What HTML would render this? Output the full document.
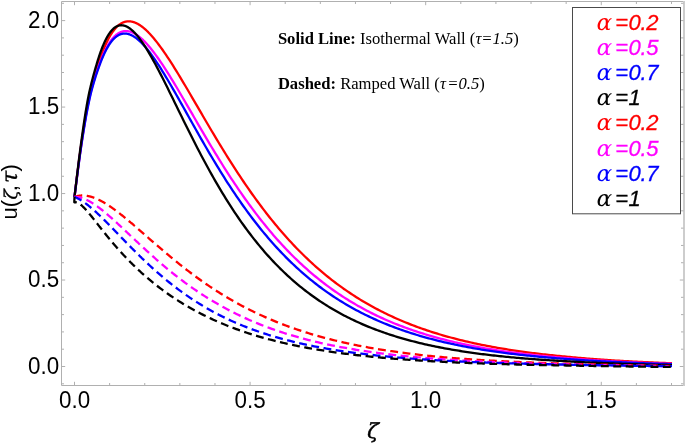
<!DOCTYPE html>
<html><head><meta charset="utf-8"><title>plot</title>
<style>html,body{margin:0;padding:0;background:#fff}svg{display:block}text{white-space:pre}</style></head><body>
<svg width="685" height="444" viewBox="0 0 685 444">
<rect width="685" height="444" fill="#fff"/>
<g stroke="#b0b0b0" stroke-width="1" fill="none">
<path d="M683.5 1.5 H61.5 V385.5 H683.5"/>
<rect x="683" y="1" width="2" height="385" fill="#cdcdcd" stroke="none"/>
<path d="M74.50 385.5 v-3.7 M74.50 1.5 v3.7 M109.62 385.5 v-2.5 M109.62 1.5 v2.5 M144.74 385.5 v-2.5 M144.74 1.5 v2.5 M179.85 385.5 v-2.5 M179.85 1.5 v2.5 M214.97 385.5 v-2.5 M214.97 1.5 v2.5 M250.09 385.5 v-3.7 M250.09 1.5 v3.7 M285.21 385.5 v-2.5 M285.21 1.5 v2.5 M320.33 385.5 v-2.5 M320.33 1.5 v2.5 M355.44 385.5 v-2.5 M355.44 1.5 v2.5 M390.56 385.5 v-2.5 M390.56 1.5 v2.5 M425.68 385.5 v-3.7 M425.68 1.5 v3.7 M460.80 385.5 v-2.5 M460.80 1.5 v2.5 M495.92 385.5 v-2.5 M495.92 1.5 v2.5 M531.03 385.5 v-2.5 M531.03 1.5 v2.5 M566.15 385.5 v-2.5 M566.15 1.5 v2.5 M601.27 385.5 v-3.7 M601.27 1.5 v3.7 M636.39 385.5 v-2.5 M636.39 1.5 v2.5 M671.51 385.5 v-2.5 M671.51 1.5 v2.5 M61.5 383.80 h2.5 M683.5 383.80 h-2.5 M61.5 366.50 h3.7 M683.5 366.50 h-3.7 M61.5 349.20 h2.5 M683.5 349.20 h-2.5 M61.5 331.91 h2.5 M683.5 331.91 h-2.5 M61.5 314.62 h2.5 M683.5 314.62 h-2.5 M61.5 297.32 h2.5 M683.5 297.32 h-2.5 M61.5 280.02 h3.7 M683.5 280.02 h-3.7 M61.5 262.73 h2.5 M683.5 262.73 h-2.5 M61.5 245.44 h2.5 M683.5 245.44 h-2.5 M61.5 228.14 h2.5 M683.5 228.14 h-2.5 M61.5 210.84 h2.5 M683.5 210.84 h-2.5 M61.5 193.55 h3.7 M683.5 193.55 h-3.7 M61.5 176.26 h2.5 M683.5 176.26 h-2.5 M61.5 158.96 h2.5 M683.5 158.96 h-2.5 M61.5 141.67 h2.5 M683.5 141.67 h-2.5 M61.5 124.37 h2.5 M683.5 124.37 h-2.5 M61.5 107.07 h3.7 M683.5 107.07 h-3.7 M61.5 89.78 h2.5 M683.5 89.78 h-2.5 M61.5 72.49 h2.5 M683.5 72.49 h-2.5 M61.5 55.19 h2.5 M683.5 55.19 h-2.5 M61.5 37.90 h2.5 M683.5 37.90 h-2.5 M61.5 20.60 h3.7 M683.5 20.60 h-3.7 M61.5 3.31 h2.5 M683.5 3.31 h-2.5"/>
</g>
<g fill="none" stroke-width="2.30" stroke-linejoin="round">
<path d="M74.50 196.90 L74.79 194.51 L75.08 192.14 L75.37 189.80 L75.65 187.48 L75.93 185.17 L76.21 182.89 L76.49 180.64 L76.77 178.40 L77.04 176.18 L77.32 173.99 L77.59 171.82 L77.87 169.66 L78.14 167.53 L78.41 165.42 L78.68 163.33 L78.95 161.26 L79.23 159.22 L79.50 157.19 L79.77 155.18 L80.04 153.19 L80.31 151.22 L80.58 149.27 L80.85 147.34 L81.12 145.43 L81.40 143.54 L81.67 141.67 L81.94 139.82 L82.22 137.99 L82.49 136.17 L82.77 134.38 L83.04 132.60 L83.32 130.84 L83.59 129.11 L83.86 127.38 L84.13 125.68 L84.40 124.00 L84.66 122.33 L84.93 120.68 L85.20 119.05 L85.47 117.44 L85.74 115.85 L86.01 114.27 L86.29 112.71 L86.56 111.16 L86.84 109.64 L87.11 108.13 L87.39 106.64 L87.67 105.16 L87.95 103.71 L88.24 102.26 L88.52 100.84 L88.81 99.43 L89.10 98.04 L89.40 96.66 L89.69 95.30 L90.00 93.96 L90.30 92.63 L90.62 91.32 L90.93 90.02 L91.25 88.74 L91.56 87.47 L91.89 86.22 L92.21 84.99 L92.53 83.77 L92.86 82.56 L93.18 81.37 L93.51 80.20 L93.84 79.03 L94.16 77.89 L94.49 76.76 L94.82 75.64 L95.14 74.54 L95.47 73.45 L95.79 72.38 L96.11 71.32 L96.43 70.27 L96.75 69.24 L97.07 68.22 L97.39 67.21 L97.70 66.22 L98.01 65.25 L98.32 64.28 L98.63 63.33 L98.94 62.39 L99.25 61.47 L99.55 60.56 L99.85 59.66 L100.15 58.77 L100.45 57.90 L100.75 57.04 L101.05 56.19 L101.35 55.36 L101.65 54.53 L101.95 53.72 L102.25 52.92 L102.55 52.14 L102.85 51.36 L103.15 50.60 L103.44 49.85 L103.74 49.11 L104.04 48.39 L104.33 47.67 L104.62 46.97 L104.92 46.27 L105.21 45.59 L105.50 44.92 L105.80 44.27 L106.09 43.62 L106.38 42.98 L106.68 42.36 L106.97 41.74 L107.26 41.14 L107.55 40.55 L107.84 39.96 L108.14 39.39 L108.43 38.83 L108.72 38.28 L109.02 37.74 L109.31 37.21 L109.60 36.69 L109.89 36.18 L110.19 35.68 L110.48 35.19 L110.77 34.71 L111.06 34.24 L111.36 33.78 L111.65 33.32 L111.94 32.88 L112.23 32.45 L112.53 32.03 L112.82 31.62 L113.11 31.21 L113.40 30.82 L113.70 30.43 L113.99 30.05 L114.28 29.69 L114.57 29.33 L114.87 28.98 L115.16 28.64 L115.45 28.30 L115.74 27.98 L116.03 27.66 L116.33 27.36 L116.62 27.06 L116.91 26.77 L117.21 26.49 L117.50 26.22 L117.79 25.95 L118.08 25.69 L118.38 25.44 L118.67 25.20 L118.96 24.97 L119.25 24.74 L119.55 24.53 L119.84 24.32 L120.13 24.12 L120.42 23.92 L120.72 23.73 L121.01 23.55 L121.30 23.38 L121.59 23.22 L121.89 23.06 L122.18 22.91 L122.47 22.77 L122.76 22.63 L123.06 22.50 L123.35 22.38 L123.64 22.27 L123.93 22.16 L124.22 22.06 L124.52 21.96 L124.81 21.87 L125.10 21.79 L125.40 21.72 L125.69 21.65 L125.98 21.59 L126.27 21.53 L126.56 21.49 L126.86 21.44 L127.15 21.41 L127.44 21.38 L127.73 21.35 L128.03 21.34 L128.32 21.32 L128.61 21.32 L128.91 21.32 L129.20 21.33 L129.49 21.34 L129.78 21.36 L130.08 21.38 L130.37 21.41 L130.66 21.44 L130.95 21.49 L131.25 21.53 L131.54 21.58 L131.83 21.64 L132.12 21.70 L132.42 21.77 L132.71 21.84 L133.00 21.92 L133.29 22.01 L133.59 22.10 L133.88 22.19 L134.17 22.29 L134.46 22.39 L134.75 22.50 L135.05 22.62 L135.34 22.74 L135.63 22.86 L135.93 22.99 L136.22 23.12 L136.51 23.26 L136.80 23.40 L137.09 23.55 L137.39 23.70 L137.68 23.86 L137.97 24.02 L138.26 24.18 L138.56 24.35 L138.85 24.53 L139.14 24.71 L139.44 24.89 L139.73 25.08 L140.02 25.27 L140.31 25.46 L140.61 25.66 L140.90 25.87 L141.19 26.07 L141.48 26.29 L141.78 26.50 L142.07 26.72 L142.36 26.94 L142.65 27.17 L142.94 27.40 L143.24 27.64 L143.53 27.88 L143.82 28.12 L144.12 28.36 L144.41 28.61 L144.70 28.87 L146.46 30.47 L148.23 32.19 L149.99 34.03 L151.75 35.97 L153.52 38.02 L155.28 40.16 L157.04 42.38 L158.81 44.69 L160.57 47.08 L162.34 49.53 L164.10 52.05 L165.86 54.63 L167.63 57.27 L169.39 59.96 L171.15 62.69 L172.92 65.47 L174.68 68.28 L176.44 71.13 L178.21 74.01 L179.97 76.92 L181.73 79.85 L183.50 82.81 L185.26 85.78 L187.03 88.77 L188.79 91.77 L190.55 94.78 L192.32 97.80 L194.08 100.82 L195.84 103.85 L197.61 106.88 L199.37 109.91 L201.13 112.94 L202.90 115.96 L204.66 118.98 L206.42 121.99 L208.19 124.99 L209.95 127.98 L211.71 130.96 L213.48 133.92 L215.24 136.87 L217.01 139.81 L218.77 142.73 L220.53 145.64 L222.30 148.52 L224.06 151.39 L225.82 154.24 L227.59 157.06 L229.35 159.87 L231.11 162.65 L232.88 165.42 L234.64 168.16 L236.40 170.87 L238.17 173.57 L239.93 176.24 L241.69 178.88 L243.46 181.50 L245.22 184.09 L246.99 186.66 L248.75 189.21 L250.51 191.72 L252.28 194.22 L254.04 196.68 L255.80 199.12 L257.57 201.53 L259.33 203.92 L261.09 206.28 L262.86 208.61 L264.62 210.92 L266.38 213.20 L268.15 215.45 L269.91 217.68 L271.68 219.88 L273.44 222.05 L275.20 224.20 L276.97 226.32 L278.73 228.41 L280.49 230.48 L282.26 232.52 L284.02 234.54 L285.78 236.53 L287.55 238.49 L289.31 240.43 L291.07 242.34 L292.84 244.23 L294.60 246.10 L296.36 247.93 L298.13 249.75 L299.89 251.54 L301.66 253.30 L303.42 255.04 L305.18 256.76 L306.95 258.45 L308.71 260.12 L310.47 261.77 L312.24 263.39 L314.00 264.99 L315.76 266.57 L317.53 268.13 L319.29 269.66 L321.05 271.17 L322.82 272.66 L324.58 274.13 L326.35 275.58 L328.11 277.00 L329.87 278.41 L331.64 279.79 L333.40 281.16 L335.16 282.50 L336.93 283.83 L338.69 285.13 L340.45 286.42 L342.22 287.69 L343.98 288.94 L345.74 290.17 L347.51 291.38 L349.27 292.57 L351.03 293.74 L352.80 294.90 L354.56 296.04 L356.33 297.16 L358.09 298.27 L359.85 299.36 L361.62 300.43 L363.38 301.49 L365.14 302.53 L366.91 303.55 L368.67 304.56 L370.43 305.55 L372.20 306.53 L373.96 307.49 L375.72 308.44 L377.49 309.37 L379.25 310.29 L381.02 311.19 L382.78 312.08 L384.54 312.96 L386.31 313.82 L388.07 314.67 L389.83 315.51 L391.60 316.33 L393.36 317.14 L395.12 317.94 L396.89 318.72 L398.65 319.49 L400.41 320.25 L402.18 321.00 L403.94 321.74 L405.70 322.46 L407.47 323.17 L409.23 323.88 L411.00 324.57 L412.76 325.25 L414.52 325.92 L416.29 326.57 L418.05 327.22 L419.81 327.86 L421.58 328.49 L423.34 329.10 L425.10 329.71 L426.87 330.31 L428.63 330.90 L430.39 331.48 L432.16 332.05 L433.92 332.61 L435.68 333.16 L437.45 333.70 L439.21 334.24 L440.98 334.76 L442.74 335.28 L444.50 335.79 L446.27 336.29 L448.03 336.78 L449.79 337.26 L451.56 337.74 L453.32 338.21 L455.08 338.67 L456.85 339.12 L458.61 339.57 L460.37 340.01 L462.14 340.44 L463.90 340.87 L465.67 341.29 L467.43 341.70 L469.19 342.10 L470.96 342.50 L472.72 342.89 L474.48 343.28 L476.25 343.66 L478.01 344.03 L479.77 344.40 L481.54 344.76 L483.30 345.11 L485.06 345.46 L486.83 345.81 L488.59 346.15 L490.35 346.48 L492.12 346.81 L493.88 347.13 L495.65 347.44 L497.41 347.76 L499.17 348.06 L500.94 348.36 L502.70 348.66 L504.46 348.95 L506.23 349.24 L507.99 349.52 L509.75 349.80 L511.52 350.07 L513.28 350.34 L515.04 350.60 L516.81 350.86 L518.57 351.12 L520.34 351.37 L522.10 351.62 L523.86 351.86 L525.63 352.10 L527.39 352.34 L529.15 352.57 L530.92 352.80 L532.68 353.02 L534.44 353.24 L536.21 353.46 L537.97 353.67 L539.73 353.88 L541.50 354.09 L543.26 354.29 L545.02 354.49 L546.79 354.68 L548.55 354.88 L550.32 355.07 L552.08 355.25 L553.84 355.44 L555.61 355.62 L557.37 355.80 L559.13 355.97 L560.90 356.15 L562.66 356.32 L564.42 356.50 L566.19 356.67 L567.95 356.84 L569.71 357.01 L571.48 357.17 L573.24 357.33 L575.01 357.49 L576.77 357.64 L578.53 357.80 L580.30 357.95 L582.06 358.10 L583.82 358.24 L585.59 358.39 L587.35 358.53 L589.11 358.67 L590.88 358.81 L592.64 358.94 L594.40 359.08 L596.17 359.21 L597.93 359.34 L599.69 359.47 L601.46 359.59 L603.22 359.71 L604.99 359.84 L606.75 359.95 L608.51 360.07 L610.28 360.19 L612.04 360.30 L613.80 360.42 L615.57 360.53 L617.33 360.64 L619.09 360.74 L620.86 360.85 L622.62 360.95 L624.38 361.05 L626.15 361.16 L627.91 361.26 L629.67 361.35 L631.44 361.45 L633.20 361.54 L634.97 361.64 L636.73 361.73 L638.49 361.82 L640.26 361.91 L642.02 362.00 L643.78 362.09 L645.55 362.17 L647.31 362.25 L649.07 362.34 L650.84 362.42 L652.60 362.50 L654.36 362.58 L656.13 362.66 L657.89 362.73 L659.66 362.81 L661.42 362.88 L663.18 362.94 L664.95 363.01 L666.71 363.07 L668.47 363.13 L670.24 363.20 L672.00 363.26" stroke="#ff0000"/>
<path d="M74.50 196.90 L74.79 194.51 L75.08 192.15 L75.37 189.81 L75.65 187.50 L75.93 185.20 L76.21 182.93 L76.49 180.69 L76.77 178.46 L77.05 176.26 L77.32 174.08 L77.59 171.93 L77.87 169.79 L78.14 167.68 L78.41 165.59 L78.69 163.52 L78.96 161.47 L79.23 159.45 L79.50 157.44 L79.77 155.46 L80.04 153.50 L80.31 151.56 L80.58 149.64 L80.86 147.74 L81.13 145.86 L81.40 144.00 L81.68 142.16 L81.95 140.34 L82.22 138.54 L82.50 136.77 L82.78 135.01 L83.05 133.27 L83.32 131.55 L83.60 129.85 L83.87 128.17 L84.14 126.51 L84.41 124.86 L84.68 123.24 L84.95 121.63 L85.22 120.05 L85.49 118.48 L85.76 116.93 L86.03 115.39 L86.30 113.88 L86.58 112.38 L86.85 110.91 L87.13 109.44 L87.40 108.00 L87.68 106.58 L87.96 105.17 L88.25 103.78 L88.53 102.40 L88.82 101.05 L89.11 99.71 L89.40 98.38 L89.69 97.07 L89.98 95.78 L90.28 94.51 L90.59 93.25 L90.90 92.01 L91.21 90.79 L91.52 89.58 L91.84 88.38 L92.16 87.20 L92.48 86.04 L92.80 84.89 L93.12 83.76 L93.44 82.64 L93.76 81.54 L94.09 80.46 L94.41 79.38 L94.74 78.33 L95.06 77.29 L95.38 76.26 L95.71 75.25 L96.03 74.25 L96.35 73.26 L96.67 72.29 L96.99 71.34 L97.31 70.39 L97.62 69.47 L97.94 68.55 L98.25 67.65 L98.57 66.76 L98.88 65.89 L99.19 65.03 L99.50 64.18 L99.80 63.35 L100.11 62.52 L100.41 61.72 L100.72 60.92 L101.02 60.14 L101.32 59.37 L101.62 58.61 L101.92 57.86 L102.21 57.13 L102.51 56.41 L102.81 55.70 L103.11 55.01 L103.41 54.32 L103.71 53.65 L104.01 52.99 L104.30 52.34 L104.60 51.70 L104.90 51.08 L105.19 50.46 L105.49 49.86 L105.79 49.27 L106.08 48.69 L106.38 48.12 L106.67 47.56 L106.96 47.01 L107.26 46.47 L107.55 45.95 L107.84 45.43 L108.14 44.93 L108.43 44.43 L108.72 43.95 L109.02 43.48 L109.31 43.01 L109.60 42.56 L109.89 42.12 L110.19 41.68 L110.48 41.26 L110.77 40.85 L111.06 40.44 L111.36 40.05 L111.65 39.66 L111.94 39.29 L112.23 38.92 L112.53 38.57 L112.82 38.22 L113.11 37.88 L113.40 37.55 L113.70 37.23 L113.99 36.92 L114.28 36.62 L114.57 36.33 L114.87 36.04 L115.16 35.77 L115.45 35.50 L115.74 35.24 L116.03 34.99 L116.33 34.75 L116.62 34.52 L116.91 34.30 L117.21 34.08 L117.50 33.87 L117.79 33.67 L118.08 33.48 L118.38 33.29 L118.67 33.12 L118.96 32.95 L119.25 32.78 L119.55 32.63 L119.84 32.48 L120.13 32.35 L120.42 32.21 L120.72 32.09 L121.01 31.97 L121.30 31.86 L121.59 31.76 L121.89 31.67 L122.18 31.58 L122.47 31.50 L122.76 31.42 L123.06 31.36 L123.35 31.30 L123.64 31.24 L123.93 31.20 L124.22 31.16 L124.52 31.12 L124.81 31.10 L125.10 31.07 L125.40 31.06 L125.69 31.05 L125.98 31.05 L126.27 31.06 L126.56 31.07 L126.86 31.08 L127.15 31.11 L127.44 31.13 L127.73 31.17 L128.03 31.21 L128.32 31.26 L128.61 31.31 L128.91 31.37 L129.20 31.43 L129.49 31.50 L129.78 31.57 L130.08 31.65 L130.37 31.74 L130.66 31.83 L130.95 31.93 L131.25 32.03 L131.54 32.14 L131.83 32.25 L132.12 32.37 L132.42 32.49 L132.71 32.62 L133.00 32.75 L133.29 32.89 L133.59 33.03 L133.88 33.18 L134.17 33.33 L134.46 33.49 L134.75 33.65 L135.05 33.81 L135.34 33.99 L135.63 34.16 L135.93 34.34 L136.22 34.53 L136.51 34.71 L136.80 34.91 L137.09 35.11 L137.39 35.31 L137.68 35.51 L137.97 35.73 L138.26 35.94 L138.56 36.16 L138.85 36.38 L139.14 36.61 L139.44 36.84 L139.73 37.08 L140.02 37.32 L140.31 37.56 L140.61 37.81 L140.90 38.06 L141.19 38.31 L141.48 38.57 L141.78 38.83 L142.07 39.10 L142.36 39.37 L142.65 39.64 L142.94 39.91 L143.24 40.19 L143.53 40.48 L143.82 40.76 L144.12 41.05 L144.41 41.35 L144.70 41.65 L146.46 43.50 L148.23 45.47 L149.99 47.55 L151.75 49.72 L153.52 51.98 L155.28 54.32 L157.04 56.75 L158.81 59.24 L160.57 61.80 L162.34 64.43 L164.10 67.10 L165.86 69.83 L167.63 72.61 L169.39 75.42 L171.15 78.28 L172.92 81.17 L174.68 84.09 L176.44 87.03 L178.21 90.00 L179.97 92.98 L181.73 95.99 L183.50 99.00 L185.26 102.03 L187.03 105.07 L188.79 108.11 L190.55 111.15 L192.32 114.20 L194.08 117.24 L195.84 120.28 L197.61 123.32 L199.37 126.35 L201.13 129.37 L202.90 132.38 L204.66 135.38 L206.42 138.37 L208.19 141.35 L209.95 144.30 L211.71 147.25 L213.48 150.17 L215.24 153.08 L217.01 155.96 L218.77 158.83 L220.53 161.67 L222.30 164.50 L224.06 167.30 L225.82 170.07 L227.59 172.83 L229.35 175.56 L231.11 178.26 L232.88 180.94 L234.64 183.60 L236.40 186.22 L238.17 188.83 L239.93 191.40 L241.69 193.95 L243.46 196.47 L245.22 198.97 L246.99 201.43 L248.75 203.87 L250.51 206.29 L252.28 208.67 L254.04 211.03 L255.80 213.36 L257.57 215.66 L259.33 217.93 L261.09 220.18 L262.86 222.40 L264.62 224.59 L266.38 226.75 L268.15 228.89 L269.91 230.99 L271.68 233.07 L273.44 235.13 L275.20 237.15 L276.97 239.15 L278.73 241.13 L280.49 243.07 L282.26 245.00 L284.02 246.89 L285.78 248.76 L287.55 250.60 L289.31 252.42 L291.07 254.21 L292.84 255.98 L294.60 257.72 L296.36 259.43 L298.13 261.13 L299.89 262.80 L301.66 264.44 L303.42 266.06 L305.18 267.66 L306.95 269.23 L308.71 270.78 L310.47 272.31 L312.24 273.81 L314.00 275.30 L315.76 276.76 L317.53 278.20 L319.29 279.62 L321.05 281.01 L322.82 282.39 L324.58 283.74 L326.35 285.08 L328.11 286.39 L329.87 287.69 L331.64 288.96 L333.40 290.22 L335.16 291.45 L336.93 292.67 L338.69 293.87 L340.45 295.05 L342.22 296.21 L343.98 297.35 L345.74 298.48 L347.51 299.58 L349.27 300.67 L351.03 301.75 L352.80 302.80 L354.56 303.84 L356.33 304.87 L358.09 305.88 L359.85 306.87 L361.62 307.84 L363.38 308.80 L365.14 309.75 L366.91 310.68 L368.67 311.60 L370.43 312.50 L372.20 313.38 L373.96 314.26 L375.72 315.11 L377.49 315.96 L379.25 316.79 L381.02 317.61 L382.78 318.41 L384.54 319.21 L386.31 319.98 L388.07 320.75 L389.83 321.51 L391.60 322.25 L393.36 322.98 L395.12 323.70 L396.89 324.40 L398.65 325.10 L400.41 325.78 L402.18 326.45 L403.94 327.12 L405.70 327.77 L407.47 328.41 L409.23 329.04 L411.00 329.66 L412.76 330.27 L414.52 330.87 L416.29 331.46 L418.05 332.04 L419.81 332.61 L421.58 333.17 L423.34 333.72 L425.10 334.27 L426.87 334.80 L428.63 335.33 L430.39 335.84 L432.16 336.35 L433.92 336.85 L435.68 337.34 L437.45 337.83 L439.21 338.30 L440.98 338.77 L442.74 339.23 L444.50 339.68 L446.27 340.13 L448.03 340.57 L449.79 341.00 L451.56 341.42 L453.32 341.84 L455.08 342.25 L456.85 342.65 L458.61 343.05 L460.37 343.44 L462.14 343.82 L463.90 344.20 L465.67 344.57 L467.43 344.93 L469.19 345.29 L470.96 345.64 L472.72 345.99 L474.48 346.33 L476.25 346.66 L478.01 346.99 L479.77 347.32 L481.54 347.64 L483.30 347.95 L485.06 348.26 L486.83 348.56 L488.59 348.86 L490.35 349.15 L492.12 349.44 L493.88 349.73 L495.65 350.00 L497.41 350.28 L499.17 350.55 L500.94 350.81 L502.70 351.07 L504.46 351.33 L506.23 351.58 L507.99 351.83 L509.75 352.07 L511.52 352.31 L513.28 352.55 L515.04 352.78 L516.81 353.01 L518.57 353.23 L520.34 353.45 L522.10 353.67 L523.86 353.88 L525.63 354.09 L527.39 354.30 L529.15 354.50 L530.92 354.70 L532.68 354.90 L534.44 355.09 L536.21 355.28 L537.97 355.47 L539.73 355.65 L541.50 355.83 L543.26 356.01 L545.02 356.18 L546.79 356.35 L548.55 356.52 L550.32 356.68 L552.08 356.85 L553.84 357.01 L555.61 357.16 L557.37 357.32 L559.13 357.47 L560.90 357.63 L562.66 357.78 L564.42 357.93 L566.19 358.08 L567.95 358.23 L569.71 358.38 L571.48 358.52 L573.24 358.66 L575.01 358.80 L576.77 358.94 L578.53 359.07 L580.30 359.20 L582.06 359.33 L583.82 359.46 L585.59 359.59 L587.35 359.71 L589.11 359.83 L590.88 359.95 L592.64 360.07 L594.40 360.19 L596.17 360.30 L597.93 360.42 L599.69 360.53 L601.46 360.64 L603.22 360.74 L604.99 360.85 L606.75 360.95 L608.51 361.06 L610.28 361.16 L612.04 361.26 L613.80 361.36 L615.57 361.45 L617.33 361.55 L619.09 361.64 L620.86 361.73 L622.62 361.82 L624.38 361.91 L626.15 362.00 L627.91 362.09 L629.67 362.17 L631.44 362.26 L633.20 362.34 L634.97 362.42 L636.73 362.50 L638.49 362.58 L640.26 362.66 L642.02 362.74 L643.78 362.81 L645.55 362.89 L647.31 362.96 L649.07 363.03 L650.84 363.10 L652.60 363.17 L654.36 363.24 L656.13 363.31 L657.89 363.38 L659.66 363.44 L661.42 363.50 L663.18 363.56 L664.95 363.61 L666.71 363.67 L668.47 363.72 L670.24 363.77 L672.00 363.82" stroke="#ff00ff"/>
<path d="M74.50 196.90 L74.79 194.58 L75.08 192.28 L75.37 190.00 L75.65 187.74 L75.93 185.51 L76.21 183.29 L76.49 181.10 L76.77 178.92 L77.05 176.77 L77.33 174.63 L77.60 172.52 L77.87 170.43 L78.15 168.35 L78.42 166.30 L78.69 164.27 L78.96 162.25 L79.24 160.26 L79.51 158.29 L79.78 156.33 L80.05 154.40 L80.32 152.48 L80.60 150.59 L80.87 148.71 L81.14 146.85 L81.41 145.02 L81.69 143.20 L81.96 141.40 L82.23 139.62 L82.51 137.85 L82.79 136.11 L83.06 134.38 L83.34 132.68 L83.61 130.99 L83.88 129.32 L84.15 127.67 L84.42 126.04 L84.69 124.42 L84.96 122.82 L85.23 121.24 L85.50 119.68 L85.78 118.14 L86.05 116.61 L86.32 115.10 L86.59 113.61 L86.87 112.14 L87.14 110.68 L87.42 109.24 L87.70 107.82 L87.97 106.41 L88.26 105.03 L88.54 103.65 L88.82 102.30 L89.11 100.96 L89.40 99.64 L89.69 98.33 L89.98 97.04 L90.28 95.77 L90.58 94.51 L90.88 93.27 L91.19 92.04 L91.50 90.83 L91.81 89.64 L92.13 88.46 L92.45 87.29 L92.77 86.15 L93.09 85.01 L93.41 83.90 L93.73 82.79 L94.05 81.71 L94.38 80.64 L94.70 79.58 L95.02 78.54 L95.35 77.51 L95.67 76.49 L95.99 75.49 L96.31 74.51 L96.63 73.54 L96.95 72.58 L97.27 71.64 L97.59 70.71 L97.91 69.80 L98.22 68.90 L98.54 68.01 L98.85 67.14 L99.16 66.28 L99.47 65.43 L99.78 64.60 L100.09 63.78 L100.39 62.97 L100.70 62.18 L101.00 61.40 L101.30 60.63 L101.60 59.88 L101.90 59.14 L102.20 58.41 L102.50 57.69 L102.80 56.99 L103.10 56.29 L103.40 55.61 L103.70 54.95 L104.00 54.29 L104.29 53.65 L104.59 53.02 L104.89 52.40 L105.19 51.79 L105.48 51.19 L105.78 50.61 L106.07 50.03 L106.37 49.47 L106.67 48.92 L106.96 48.38 L107.25 47.85 L107.55 47.33 L107.84 46.83 L108.14 46.33 L108.43 45.85 L108.72 45.37 L109.02 44.91 L109.31 44.46 L109.60 44.02 L109.89 43.58 L110.19 43.16 L110.48 42.75 L110.77 42.35 L111.06 41.96 L111.36 41.58 L111.65 41.21 L111.94 40.85 L112.23 40.49 L112.53 40.15 L112.82 39.82 L113.11 39.50 L113.40 39.18 L113.70 38.88 L113.99 38.59 L114.28 38.30 L114.57 38.02 L114.87 37.76 L115.16 37.50 L115.45 37.25 L115.74 37.01 L116.03 36.78 L116.33 36.55 L116.62 36.34 L116.91 36.13 L117.21 35.94 L117.50 35.75 L117.79 35.57 L118.08 35.39 L118.38 35.23 L118.67 35.07 L118.96 34.93 L119.25 34.79 L119.55 34.65 L119.84 34.53 L120.13 34.41 L120.42 34.30 L120.72 34.20 L121.01 34.11 L121.30 34.02 L121.59 33.95 L121.89 33.87 L122.18 33.81 L122.47 33.75 L122.76 33.70 L123.06 33.66 L123.35 33.63 L123.64 33.60 L123.93 33.58 L124.22 33.56 L124.52 33.55 L124.81 33.55 L125.10 33.56 L125.40 33.57 L125.69 33.59 L125.98 33.62 L126.27 33.65 L126.56 33.69 L126.86 33.73 L127.15 33.78 L127.44 33.84 L127.73 33.90 L128.03 33.97 L128.32 34.05 L128.61 34.13 L128.91 34.21 L129.20 34.31 L129.49 34.41 L129.78 34.51 L130.08 34.62 L130.37 34.74 L130.66 34.86 L130.95 34.98 L131.25 35.12 L131.54 35.25 L131.83 35.40 L132.12 35.55 L132.42 35.70 L132.71 35.86 L133.00 36.02 L133.29 36.19 L133.59 36.37 L133.88 36.55 L134.17 36.73 L134.46 36.92 L134.75 37.11 L135.05 37.31 L135.34 37.51 L135.63 37.72 L135.93 37.94 L136.22 38.15 L136.51 38.37 L136.80 38.60 L137.09 38.83 L137.39 39.07 L137.68 39.31 L137.97 39.55 L138.26 39.80 L138.56 40.05 L138.85 40.31 L139.14 40.57 L139.44 40.83 L139.73 41.10 L140.02 41.38 L140.31 41.65 L140.61 41.93 L140.90 42.22 L141.19 42.51 L141.48 42.80 L141.78 43.09 L142.07 43.39 L142.36 43.70 L142.65 44.00 L142.94 44.31 L143.24 44.63 L143.53 44.95 L143.82 45.27 L144.12 45.59 L144.41 45.92 L144.70 46.25 L146.46 48.32 L148.23 50.49 L149.99 52.77 L151.75 55.15 L153.52 57.61 L155.28 60.16 L157.04 62.78 L158.81 65.47 L160.57 68.23 L162.34 71.04 L164.10 73.90 L165.86 76.81 L167.63 79.76 L169.39 82.75 L171.15 85.77 L172.92 88.82 L174.68 91.90 L176.44 94.99 L178.21 98.10 L179.97 101.23 L181.73 104.37 L183.50 107.51 L185.26 110.66 L187.03 113.82 L188.79 116.97 L190.55 120.12 L192.32 123.26 L194.08 126.40 L195.84 129.53 L197.61 132.65 L199.37 135.76 L201.13 138.85 L202.90 141.93 L204.66 144.99 L206.42 148.03 L208.19 151.05 L209.95 154.05 L211.71 157.03 L213.48 159.99 L215.24 162.93 L217.01 165.84 L218.77 168.72 L220.53 171.58 L222.30 174.42 L224.06 177.23 L225.82 180.01 L227.59 182.76 L229.35 185.48 L231.11 188.18 L232.88 190.84 L234.64 193.48 L236.40 196.09 L238.17 198.67 L239.93 201.21 L241.69 203.73 L243.46 206.22 L245.22 208.68 L246.99 211.11 L248.75 213.51 L250.51 215.88 L252.28 218.21 L254.04 220.52 L255.80 222.80 L257.57 225.05 L259.33 227.27 L261.09 229.46 L262.86 231.62 L264.62 233.75 L266.38 235.85 L268.15 237.92 L269.91 239.96 L271.68 241.98 L273.44 243.96 L275.20 245.92 L276.97 247.85 L278.73 249.75 L280.49 251.63 L282.26 253.48 L284.02 255.30 L285.78 257.09 L287.55 258.86 L289.31 260.60 L291.07 262.32 L292.84 264.01 L294.60 265.67 L296.36 267.31 L298.13 268.92 L299.89 270.51 L301.66 272.08 L303.42 273.62 L305.18 275.14 L306.95 276.63 L308.71 278.11 L310.47 279.55 L312.24 280.98 L314.00 282.39 L315.76 283.77 L317.53 285.13 L319.29 286.47 L321.05 287.79 L322.82 289.08 L324.58 290.36 L326.35 291.62 L328.11 292.85 L329.87 294.07 L331.64 295.27 L333.40 296.45 L335.16 297.61 L336.93 298.75 L338.69 299.87 L340.45 300.98 L342.22 302.06 L343.98 303.13 L345.74 304.19 L347.51 305.22 L349.27 306.24 L351.03 307.24 L352.80 308.23 L354.56 309.20 L356.33 310.15 L358.09 311.09 L359.85 312.01 L361.62 312.92 L363.38 313.81 L365.14 314.69 L366.91 315.56 L368.67 316.41 L370.43 317.24 L372.20 318.06 L373.96 318.87 L375.72 319.67 L377.49 320.45 L379.25 321.22 L381.02 321.98 L382.78 322.72 L384.54 323.45 L386.31 324.17 L388.07 324.88 L389.83 325.58 L391.60 326.26 L393.36 326.94 L395.12 327.60 L396.89 328.25 L398.65 328.89 L400.41 329.52 L402.18 330.14 L403.94 330.75 L405.70 331.35 L407.47 331.94 L409.23 332.51 L411.00 333.08 L412.76 333.64 L414.52 334.20 L416.29 334.74 L418.05 335.27 L419.81 335.79 L421.58 336.31 L423.34 336.81 L425.10 337.31 L426.87 337.80 L428.63 338.28 L430.39 338.76 L432.16 339.22 L433.92 339.68 L435.68 340.13 L437.45 340.57 L439.21 341.01 L440.98 341.43 L442.74 341.85 L444.50 342.27 L446.27 342.67 L448.03 343.07 L449.79 343.47 L451.56 343.85 L453.32 344.23 L455.08 344.61 L456.85 344.97 L458.61 345.33 L460.37 345.69 L462.14 346.04 L463.90 346.38 L465.67 346.72 L467.43 347.05 L469.19 347.38 L470.96 347.70 L472.72 348.01 L474.48 348.32 L476.25 348.63 L478.01 348.93 L479.77 349.22 L481.54 349.51 L483.30 349.80 L485.06 350.08 L486.83 350.35 L488.59 350.62 L490.35 350.89 L492.12 351.15 L493.88 351.41 L495.65 351.66 L497.41 351.91 L499.17 352.15 L500.94 352.39 L502.70 352.63 L504.46 352.86 L506.23 353.09 L507.99 353.32 L509.75 353.54 L511.52 353.75 L513.28 353.97 L515.04 354.18 L516.81 354.38 L518.57 354.59 L520.34 354.79 L522.10 354.98 L523.86 355.17 L525.63 355.36 L527.39 355.55 L529.15 355.73 L530.92 355.91 L532.68 356.09 L534.44 356.26 L536.21 356.44 L537.97 356.60 L539.73 356.77 L541.50 356.93 L543.26 357.09 L545.02 357.25 L546.79 357.40 L548.55 357.55 L550.32 357.70 L552.08 357.85 L553.84 358.00 L555.61 358.14 L557.37 358.28 L559.13 358.41 L560.90 358.55 L562.66 358.69 L564.42 358.83 L566.19 358.97 L567.95 359.10 L569.71 359.23 L571.48 359.36 L573.24 359.49 L575.01 359.62 L576.77 359.74 L578.53 359.86 L580.30 359.98 L582.06 360.10 L583.82 360.21 L585.59 360.33 L587.35 360.44 L589.11 360.55 L590.88 360.66 L592.64 360.77 L594.40 360.87 L596.17 360.98 L597.93 361.08 L599.69 361.18 L601.46 361.28 L603.22 361.38 L604.99 361.47 L606.75 361.57 L608.51 361.66 L610.28 361.75 L612.04 361.84 L613.80 361.93 L615.57 362.02 L617.33 362.11 L619.09 362.19 L620.86 362.27 L622.62 362.36 L624.38 362.44 L626.15 362.52 L627.91 362.59 L629.67 362.67 L631.44 362.75 L633.20 362.82 L634.97 362.90 L636.73 362.97 L638.49 363.04 L640.26 363.11 L642.02 363.18 L643.78 363.25 L645.55 363.32 L647.31 363.38 L649.07 363.45 L650.84 363.51 L652.60 363.58 L654.36 363.64 L656.13 363.70 L657.89 363.76 L659.66 363.82 L661.42 363.88 L663.18 363.93 L664.95 363.98 L666.71 364.02 L668.47 364.07 L670.24 364.12 L672.00 364.16" stroke="#0000ff"/>
<path d="M74.50 196.90 L74.79 194.43 L75.08 191.98 L75.37 189.55 L75.65 187.14 L75.93 184.74 L76.21 182.37 L76.49 180.02 L76.76 177.68 L77.04 175.37 L77.31 173.07 L77.58 170.80 L77.86 168.54 L78.13 166.31 L78.40 164.09 L78.67 161.90 L78.94 159.72 L79.21 157.56 L79.48 155.43 L79.75 153.31 L80.02 151.22 L80.29 149.14 L80.56 147.08 L80.83 145.05 L81.10 143.03 L81.37 141.03 L81.64 139.06 L81.92 137.10 L82.19 135.16 L82.47 133.24 L82.74 131.35 L83.01 129.47 L83.28 127.61 L83.54 125.77 L83.81 123.95 L84.08 122.15 L84.34 120.37 L84.61 118.61 L84.88 116.87 L85.15 115.15 L85.42 113.45 L85.69 111.76 L85.96 110.10 L86.24 108.45 L86.52 106.83 L86.79 105.22 L87.08 103.63 L87.36 102.07 L87.65 100.52 L87.93 98.98 L88.23 97.47 L88.52 95.98 L88.82 94.50 L89.13 93.05 L89.44 91.61 L89.76 90.19 L90.07 88.79 L90.40 87.40 L90.72 86.04 L91.05 84.69 L91.37 83.36 L91.70 82.05 L92.03 80.76 L92.36 79.48 L92.69 78.23 L93.02 76.99 L93.35 75.76 L93.68 74.56 L94.01 73.37 L94.33 72.20 L94.66 71.05 L94.98 69.91 L95.30 68.79 L95.62 67.69 L95.94 66.60 L96.25 65.53 L96.57 64.48 L96.88 63.44 L97.19 62.42 L97.49 61.42 L97.80 60.43 L98.10 59.46 L98.40 58.50 L98.70 57.56 L99.00 56.64 L99.30 55.73 L99.60 54.84 L99.90 53.96 L100.20 53.10 L100.50 52.26 L100.80 51.43 L101.10 50.61 L101.40 49.81 L101.69 49.02 L101.99 48.25 L102.28 47.50 L102.58 46.76 L102.87 46.03 L103.16 45.32 L103.46 44.62 L103.75 43.94 L104.04 43.27 L104.34 42.61 L104.63 41.97 L104.92 41.34 L105.21 40.73 L105.50 40.13 L105.80 39.54 L106.09 38.97 L106.38 38.41 L106.68 37.86 L106.97 37.32 L107.26 36.80 L107.55 36.30 L107.84 35.80 L108.14 35.32 L108.43 34.85 L108.72 34.39 L109.02 33.95 L109.31 33.52 L109.60 33.10 L109.89 32.69 L110.19 32.29 L110.48 31.91 L110.77 31.54 L111.06 31.18 L111.36 30.83 L111.65 30.49 L111.94 30.17 L112.23 29.85 L112.53 29.55 L112.82 29.26 L113.11 28.98 L113.40 28.71 L113.70 28.45 L113.99 28.20 L114.28 27.97 L114.57 27.74 L114.87 27.52 L115.16 27.32 L115.45 27.12 L115.74 26.94 L116.03 26.77 L116.33 26.60 L116.62 26.45 L116.91 26.30 L117.21 26.17 L117.50 26.04 L117.79 25.93 L118.08 25.82 L118.38 25.73 L118.67 25.64 L118.96 25.56 L119.25 25.49 L119.55 25.43 L119.84 25.38 L120.13 25.34 L120.42 25.31 L120.72 25.29 L121.01 25.27 L121.30 25.26 L121.59 25.27 L121.89 25.28 L122.18 25.29 L122.47 25.32 L122.76 25.36 L123.06 25.40 L123.35 25.45 L123.64 25.51 L123.93 25.58 L124.22 25.65 L124.52 25.74 L124.81 25.83 L125.10 25.92 L125.40 26.03 L125.69 26.14 L125.98 26.26 L126.27 26.39 L126.56 26.52 L126.86 26.66 L127.15 26.81 L127.44 26.97 L127.73 27.13 L128.03 27.30 L128.32 27.47 L128.61 27.66 L128.91 27.85 L129.20 28.04 L129.49 28.24 L129.78 28.45 L130.08 28.67 L130.37 28.89 L130.66 29.11 L130.95 29.35 L131.25 29.59 L131.54 29.83 L131.83 30.08 L132.12 30.34 L132.42 30.60 L132.71 30.87 L133.00 31.14 L133.29 31.42 L133.59 31.70 L133.88 31.99 L134.17 32.29 L134.46 32.59 L134.75 32.90 L135.05 33.21 L135.34 33.52 L135.63 33.84 L135.93 34.17 L136.22 34.50 L136.51 34.84 L136.80 35.18 L137.09 35.52 L137.39 35.87 L137.68 36.23 L137.97 36.59 L138.26 36.95 L138.56 37.32 L138.85 37.69 L139.14 38.07 L139.44 38.45 L139.73 38.83 L140.02 39.22 L140.31 39.62 L140.61 40.01 L140.90 40.41 L141.19 40.82 L141.48 41.23 L141.78 41.64 L142.07 42.06 L142.36 42.48 L142.65 42.90 L142.94 43.33 L143.24 43.76 L143.53 44.20 L143.82 44.64 L144.12 45.08 L144.41 45.53 L144.70 45.97 L146.46 48.75 L148.23 51.63 L149.99 54.61 L151.75 57.69 L153.52 60.84 L155.28 64.07 L157.04 67.36 L158.81 70.71 L160.57 74.11 L162.34 77.55 L164.10 81.04 L165.86 84.55 L167.63 88.10 L169.39 91.66 L171.15 95.24 L172.92 98.83 L174.68 102.43 L176.44 106.03 L178.21 109.64 L179.97 113.24 L181.73 116.83 L183.50 120.41 L185.26 123.98 L187.03 127.54 L188.79 131.08 L190.55 134.59 L192.32 138.09 L194.08 141.56 L195.84 145.01 L197.61 148.43 L199.37 151.82 L201.13 155.18 L202.90 158.51 L204.66 161.80 L206.42 165.07 L208.19 168.29 L209.95 171.49 L211.71 174.65 L213.48 177.77 L215.24 180.86 L217.01 183.90 L218.77 186.91 L220.53 189.89 L222.30 192.82 L224.06 195.72 L225.82 198.58 L227.59 201.40 L229.35 204.18 L231.11 206.92 L232.88 209.62 L234.64 212.29 L236.40 214.91 L238.17 217.50 L239.93 220.05 L241.69 222.56 L243.46 225.03 L245.22 227.47 L246.99 229.87 L248.75 232.23 L250.51 234.56 L252.28 236.84 L254.04 239.10 L255.80 241.31 L257.57 243.50 L259.33 245.64 L261.09 247.75 L262.86 249.83 L264.62 251.88 L266.38 253.89 L268.15 255.86 L269.91 257.81 L271.68 259.72 L273.44 261.60 L275.20 263.45 L276.97 265.27 L278.73 267.06 L280.49 268.82 L282.26 270.54 L284.02 272.24 L285.78 273.91 L287.55 275.55 L289.31 277.17 L291.07 278.75 L292.84 280.31 L294.60 281.84 L296.36 283.35 L298.13 284.83 L299.89 286.28 L301.66 287.71 L303.42 289.11 L305.18 290.49 L306.95 291.84 L308.71 293.18 L310.47 294.48 L312.24 295.77 L314.00 297.03 L315.76 298.27 L317.53 299.49 L319.29 300.69 L321.05 301.86 L322.82 303.02 L324.58 304.15 L326.35 305.27 L328.11 306.36 L329.87 307.44 L331.64 308.50 L333.40 309.53 L335.16 310.55 L336.93 311.56 L338.69 312.54 L340.45 313.51 L342.22 314.45 L343.98 315.39 L345.74 316.30 L347.51 317.20 L349.27 318.09 L351.03 318.95 L352.80 319.80 L354.56 320.64 L356.33 321.46 L358.09 322.27 L359.85 323.06 L361.62 323.84 L363.38 324.61 L365.14 325.36 L366.91 326.10 L368.67 326.82 L370.43 327.53 L372.20 328.23 L373.96 328.92 L375.72 329.59 L377.49 330.25 L379.25 330.90 L381.02 331.54 L382.78 332.17 L384.54 332.78 L386.31 333.39 L388.07 333.98 L389.83 334.57 L391.60 335.14 L393.36 335.70 L395.12 336.25 L396.89 336.80 L398.65 337.33 L400.41 337.85 L402.18 338.36 L403.94 338.87 L405.70 339.36 L407.47 339.85 L409.23 340.33 L411.00 340.80 L412.76 341.26 L414.52 341.71 L416.29 342.16 L418.05 342.59 L419.81 343.02 L421.58 343.44 L423.34 343.85 L425.10 344.26 L426.87 344.66 L428.63 345.05 L430.39 345.43 L432.16 345.81 L433.92 346.18 L435.68 346.55 L437.45 346.90 L439.21 347.25 L440.98 347.60 L442.74 347.94 L444.50 348.27 L446.27 348.60 L448.03 348.92 L449.79 349.23 L451.56 349.54 L453.32 349.84 L455.08 350.14 L456.85 350.44 L458.61 350.72 L460.37 351.00 L462.14 351.28 L463.90 351.55 L465.67 351.82 L467.43 352.08 L469.19 352.34 L470.96 352.59 L472.72 352.84 L474.48 353.09 L476.25 353.33 L478.01 353.56 L479.77 353.79 L481.54 354.02 L483.30 354.24 L485.06 354.46 L486.83 354.68 L488.59 354.89 L490.35 355.10 L492.12 355.30 L493.88 355.50 L495.65 355.70 L497.41 355.89 L499.17 356.08 L500.94 356.26 L502.70 356.45 L504.46 356.62 L506.23 356.80 L507.99 356.97 L509.75 357.14 L511.52 357.31 L513.28 357.47 L515.04 357.63 L516.81 357.79 L518.57 357.95 L520.34 358.10 L522.10 358.25 L523.86 358.40 L525.63 358.54 L527.39 358.68 L529.15 358.82 L530.92 358.96 L532.68 359.09 L534.44 359.22 L536.21 359.35 L537.97 359.48 L539.73 359.60 L541.50 359.73 L543.26 359.85 L545.02 359.96 L546.79 360.08 L548.55 360.19 L550.32 360.31 L552.08 360.41 L553.84 360.52 L555.61 360.63 L557.37 360.73 L559.13 360.83 L560.90 360.94 L562.66 361.05 L564.42 361.15 L566.19 361.25 L567.95 361.35 L569.71 361.45 L571.48 361.55 L573.24 361.65 L575.01 361.74 L576.77 361.83 L578.53 361.93 L580.30 362.02 L582.06 362.10 L583.82 362.19 L585.59 362.28 L587.35 362.36 L589.11 362.44 L590.88 362.53 L592.64 362.61 L594.40 362.69 L596.17 362.76 L597.93 362.84 L599.69 362.91 L601.46 362.99 L603.22 363.06 L604.99 363.13 L606.75 363.20 L608.51 363.27 L610.28 363.34 L612.04 363.41 L613.80 363.47 L615.57 363.54 L617.33 363.60 L619.09 363.67 L620.86 363.73 L622.62 363.79 L624.38 363.85 L626.15 363.91 L627.91 363.97 L629.67 364.02 L631.44 364.08 L633.20 364.13 L634.97 364.19 L636.73 364.24 L638.49 364.30 L640.26 364.35 L642.02 364.40 L643.78 364.45 L645.55 364.50 L647.31 364.55 L649.07 364.60 L650.84 364.65 L652.60 364.69 L654.36 364.74 L656.13 364.78 L657.89 364.83 L659.66 364.87 L661.42 364.91 L663.18 364.94 L664.95 364.98 L666.71 365.01 L668.47 365.05 L670.24 365.08 L672.00 365.11" stroke="#000000"/>
<path d="M74.50 196.90 L74.79 196.79 L75.08 196.69 L75.38 196.60 L75.67 196.50 L75.96 196.42 L76.25 196.33 L76.55 196.25 L76.84 196.18 L77.13 196.10 L77.42 196.04 L77.72 195.97 L78.01 195.91 L78.30 195.86 L78.59 195.81 L78.89 195.76 L79.18 195.72 L79.47 195.68 L79.77 195.64 L80.06 195.61 L80.35 195.58 L80.64 195.55 L80.94 195.53 L81.23 195.51 L81.52 195.50 L81.81 195.49 L82.11 195.48 L82.40 195.48 L82.69 195.48 L82.98 195.48 L83.28 195.48 L83.57 195.49 L83.86 195.51 L84.15 195.52 L84.44 195.54 L84.74 195.56 L85.03 195.59 L85.32 195.62 L85.61 195.65 L85.91 195.68 L86.20 195.72 L86.49 195.76 L86.78 195.81 L87.08 195.85 L87.37 195.90 L87.66 195.95 L87.95 196.01 L88.25 196.07 L88.54 196.13 L88.83 196.19 L89.12 196.26 L89.42 196.33 L89.71 196.40 L90.00 196.47 L90.30 196.55 L90.59 196.63 L90.88 196.71 L91.17 196.79 L91.47 196.88 L91.76 196.97 L92.05 197.06 L92.34 197.15 L92.64 197.25 L92.93 197.35 L93.22 197.45 L93.51 197.55 L93.81 197.66 L94.10 197.77 L94.39 197.88 L94.68 197.99 L94.97 198.10 L95.27 198.22 L95.56 198.34 L95.85 198.46 L96.14 198.58 L96.44 198.71 L96.73 198.84 L97.02 198.96 L97.31 199.10 L97.61 199.23 L97.90 199.36 L98.19 199.50 L98.48 199.64 L98.78 199.78 L99.07 199.92 L99.36 200.07 L99.66 200.21 L99.95 200.36 L100.24 200.51 L100.53 200.66 L100.83 200.81 L101.12 200.97 L101.41 201.13 L101.70 201.28 L102.00 201.44 L102.29 201.61 L102.58 201.77 L102.87 201.93 L103.16 202.10 L103.46 202.27 L103.75 202.44 L104.04 202.61 L104.34 202.78 L104.63 202.95 L104.92 203.13 L105.21 203.31 L105.50 203.49 L105.80 203.66 L106.09 203.85 L106.38 204.03 L106.68 204.21 L106.97 204.40 L107.26 204.58 L107.55 204.77 L107.84 204.96 L108.14 205.15 L108.43 205.34 L108.72 205.53 L109.02 205.73 L109.31 205.92 L109.60 206.12 L109.89 206.32 L110.19 206.52 L110.48 206.72 L110.77 206.92 L111.06 207.12 L111.36 207.32 L111.65 207.53 L111.94 207.73 L112.23 207.94 L112.53 208.15 L112.82 208.35 L113.11 208.56 L113.40 208.77 L113.70 208.98 L113.99 209.20 L114.28 209.41 L114.57 209.62 L114.87 209.84 L115.16 210.06 L115.45 210.27 L115.74 210.49 L116.03 210.71 L116.33 210.93 L116.62 211.15 L116.91 211.37 L117.21 211.59 L117.50 211.82 L117.79 212.04 L118.08 212.26 L118.38 212.49 L118.67 212.72 L118.96 212.94 L119.25 213.17 L119.55 213.40 L119.84 213.63 L120.13 213.86 L120.42 214.09 L120.72 214.32 L121.01 214.55 L121.30 214.78 L121.59 215.01 L121.89 215.25 L122.18 215.48 L122.47 215.72 L122.76 215.95 L123.06 216.19 L123.35 216.42 L123.64 216.66 L123.93 216.90 L124.22 217.14 L124.52 217.38 L124.81 217.62 L125.10 217.86 L125.40 218.10 L125.69 218.34 L125.98 218.58 L126.27 218.82 L126.56 219.06 L126.86 219.30 L127.15 219.55 L127.44 219.79 L127.73 220.04 L128.03 220.28 L128.32 220.53 L128.61 220.77 L128.91 221.02 L129.20 221.26 L129.49 221.51 L129.78 221.76 L130.08 222.00 L130.37 222.25 L130.66 222.50 L130.95 222.75 L131.25 223.00 L131.54 223.24 L131.83 223.49 L132.12 223.74 L132.42 223.99 L132.71 224.24 L133.00 224.49 L133.29 224.74 L133.59 224.99 L133.88 225.25 L134.17 225.50 L134.46 225.75 L134.75 226.00 L135.05 226.25 L135.34 226.51 L135.63 226.76 L135.93 227.01 L136.22 227.26 L136.51 227.52 L136.80 227.77 L137.09 228.02 L137.39 228.28 L137.68 228.53 L137.97 228.79 L138.26 229.04 L138.56 229.29 L138.85 229.55 L139.14 229.80 L139.44 230.06 L139.73 230.31 L140.02 230.57 L140.31 230.82 L140.61 231.08 L140.90 231.33 L141.19 231.59 L141.48 231.84 L141.78 232.10 L142.07 232.36 L142.36 232.61 L142.65 232.87 L142.94 233.12 L143.24 233.38 L143.53 233.63 L143.82 233.89 L144.12 234.15 L144.41 234.40 L144.70 234.66 L146.46 236.20 L148.23 237.75 L149.99 239.29 L151.75 240.83 L153.52 242.37 L155.28 243.90 L157.04 245.43 L158.81 246.95 L160.57 248.47 L162.34 249.98 L164.10 251.48 L165.86 252.97 L167.63 254.46 L169.39 255.93 L171.15 257.40 L172.92 258.85 L174.68 260.30 L176.44 261.73 L178.21 263.16 L179.97 264.57 L181.73 265.97 L183.50 267.36 L185.26 268.73 L187.03 270.09 L188.79 271.44 L190.55 272.78 L192.32 274.10 L194.08 275.42 L195.84 276.71 L197.61 278.00 L199.37 279.27 L201.13 280.53 L202.90 281.77 L204.66 283.00 L206.42 284.21 L208.19 285.42 L209.95 286.61 L211.71 287.78 L213.48 288.94 L215.24 290.09 L217.01 291.22 L218.77 292.34 L220.53 293.45 L222.30 294.54 L224.06 295.62 L225.82 296.68 L227.59 297.74 L229.35 298.77 L231.11 299.80 L232.88 300.81 L234.64 301.81 L236.40 302.79 L238.17 303.77 L239.93 304.73 L241.69 305.67 L243.46 306.61 L245.22 307.53 L246.99 308.44 L248.75 309.34 L250.51 310.22 L252.28 311.09 L254.04 311.95 L255.80 312.80 L257.57 313.64 L259.33 314.46 L261.09 315.27 L262.86 316.07 L264.62 316.86 L266.38 317.64 L268.15 318.41 L269.91 319.17 L271.68 319.91 L273.44 320.65 L275.20 321.37 L276.97 322.09 L278.73 322.79 L280.49 323.48 L282.26 324.16 L284.02 324.84 L285.78 325.50 L287.55 326.15 L289.31 326.80 L291.07 327.43 L292.84 328.05 L294.60 328.67 L296.36 329.28 L298.13 329.87 L299.89 330.46 L301.66 331.04 L303.42 331.61 L305.18 332.17 L306.95 332.72 L308.71 333.27 L310.47 333.80 L312.24 334.33 L314.00 334.85 L315.76 335.36 L317.53 335.87 L319.29 336.36 L321.05 336.85 L322.82 337.33 L324.58 337.81 L326.35 338.27 L328.11 338.73 L329.87 339.18 L331.64 339.63 L333.40 340.07 L335.16 340.50 L336.93 340.92 L338.69 341.34 L340.45 341.75 L342.22 342.16 L343.98 342.56 L345.74 342.95 L347.51 343.33 L349.27 343.71 L351.03 344.09 L352.80 344.46 L354.56 344.82 L356.33 345.17 L358.09 345.53 L359.85 345.87 L361.62 346.21 L363.38 346.54 L365.14 346.87 L366.91 347.20 L368.67 347.52 L370.43 347.83 L372.20 348.14 L373.96 348.44 L375.72 348.74 L377.49 349.03 L379.25 349.32 L381.02 349.61 L382.78 349.89 L384.54 350.16 L386.31 350.43 L388.07 350.70 L389.83 350.96 L391.60 351.22 L393.36 351.47 L395.12 351.72 L396.89 351.97 L398.65 352.21 L400.41 352.45 L402.18 352.68 L403.94 352.91 L405.70 353.14 L407.47 353.36 L409.23 353.58 L411.00 353.80 L412.76 354.01 L414.52 354.22 L416.29 354.42 L418.05 354.62 L419.81 354.82 L421.58 355.02 L423.34 355.21 L425.10 355.40 L426.87 355.58 L428.63 355.77 L430.39 355.95 L432.16 356.12 L433.92 356.30 L435.68 356.47 L437.45 356.64 L439.21 356.80 L440.98 356.96 L442.74 357.12 L444.50 357.28 L446.27 357.44 L448.03 357.59 L449.79 357.74 L451.56 357.88 L453.32 358.03 L455.08 358.17 L456.85 358.31 L458.61 358.45 L460.37 358.58 L462.14 358.72 L463.90 358.85 L465.67 358.98 L467.43 359.10 L469.19 359.23 L470.96 359.35 L472.72 359.47 L474.48 359.59 L476.25 359.71 L478.01 359.82 L479.77 359.93 L481.54 360.04 L483.30 360.15 L485.06 360.26 L486.83 360.36 L488.59 360.47 L490.35 360.57 L492.12 360.67 L493.88 360.77 L495.65 360.86 L497.41 360.96 L499.17 361.05 L500.94 361.14 L502.70 361.23 L504.46 361.32 L506.23 361.41 L507.99 361.50 L509.75 361.58 L511.52 361.66 L513.28 361.74 L515.04 361.82 L516.81 361.90 L518.57 361.98 L520.34 362.06 L522.10 362.13 L523.86 362.20 L525.63 362.28 L527.39 362.35 L529.15 362.42 L530.92 362.49 L532.68 362.55 L534.44 362.62 L536.21 362.69 L537.97 362.75 L539.73 362.81 L541.50 362.88 L543.26 362.94 L545.02 363.00 L546.79 363.06 L548.55 363.11 L550.32 363.17 L552.08 363.23 L553.84 363.28 L555.61 363.33 L557.37 363.39 L559.13 363.44 L560.90 363.50 L562.66 363.55 L564.42 363.61 L566.19 363.67 L567.95 363.72 L569.71 363.78 L571.48 363.83 L573.24 363.89 L575.01 363.94 L576.77 363.99 L578.53 364.04 L580.30 364.09 L582.06 364.14 L583.82 364.19 L585.59 364.24 L587.35 364.29 L589.11 364.33 L590.88 364.38 L592.64 364.43 L594.40 364.47 L596.17 364.52 L597.93 364.56 L599.69 364.60 L601.46 364.64 L603.22 364.69 L604.99 364.73 L606.75 364.77 L608.51 364.81 L610.28 364.85 L612.04 364.89 L613.80 364.93 L615.57 364.96 L617.33 365.00 L619.09 365.04 L620.86 365.07 L622.62 365.11 L624.38 365.15 L626.15 365.18 L627.91 365.21 L629.67 365.25 L631.44 365.28 L633.20 365.32 L634.97 365.35 L636.73 365.38 L638.49 365.41 L640.26 365.44 L642.02 365.48 L643.78 365.51 L645.55 365.54 L647.31 365.57 L649.07 365.60 L650.84 365.62 L652.60 365.65 L654.36 365.68 L656.13 365.71 L657.89 365.74 L659.66 365.76 L661.42 365.79 L663.18 365.80 L664.95 365.82 L666.71 365.84 L668.47 365.86 L670.24 365.88 L672.00 365.89" stroke="#ff0000" stroke-dasharray="7.9 4.5"/>
<path d="M74.50 196.90 L74.79 196.90 L75.08 196.90 L75.38 196.90 L75.67 196.91 L75.96 196.93 L76.25 196.94 L76.55 196.97 L76.84 196.99 L77.13 197.02 L77.42 197.06 L77.72 197.10 L78.01 197.14 L78.30 197.18 L78.59 197.23 L78.89 197.29 L79.18 197.35 L79.47 197.41 L79.77 197.47 L80.06 197.54 L80.35 197.61 L80.64 197.69 L80.94 197.77 L81.23 197.85 L81.52 197.93 L81.81 198.02 L82.11 198.11 L82.40 198.21 L82.69 198.31 L82.98 198.41 L83.28 198.51 L83.57 198.62 L83.86 198.73 L84.15 198.84 L84.44 198.96 L84.74 199.08 L85.03 199.20 L85.32 199.33 L85.61 199.45 L85.91 199.58 L86.20 199.72 L86.49 199.85 L86.78 199.99 L87.08 200.13 L87.37 200.27 L87.66 200.42 L87.95 200.57 L88.25 200.72 L88.54 200.87 L88.83 201.03 L89.12 201.19 L89.42 201.35 L89.71 201.51 L90.00 201.67 L90.30 201.84 L90.59 202.01 L90.88 202.18 L91.17 202.35 L91.47 202.53 L91.76 202.70 L92.05 202.88 L92.34 203.06 L92.64 203.25 L92.93 203.43 L93.22 203.62 L93.51 203.81 L93.81 204.00 L94.10 204.19 L94.39 204.39 L94.68 204.58 L94.97 204.78 L95.27 204.98 L95.56 205.18 L95.85 205.38 L96.14 205.59 L96.44 205.79 L96.73 206.00 L97.02 206.21 L97.31 206.42 L97.61 206.63 L97.90 206.85 L98.19 207.06 L98.48 207.28 L98.78 207.49 L99.07 207.71 L99.36 207.93 L99.66 208.16 L99.95 208.38 L100.24 208.60 L100.53 208.83 L100.83 209.06 L101.12 209.28 L101.41 209.51 L101.70 209.74 L102.00 209.98 L102.29 210.21 L102.58 210.44 L102.87 210.68 L103.16 210.91 L103.46 211.15 L103.75 211.39 L104.04 211.63 L104.34 211.87 L104.63 212.11 L104.92 212.35 L105.21 212.60 L105.50 212.84 L105.80 213.09 L106.09 213.33 L106.38 213.58 L106.68 213.83 L106.97 214.08 L107.26 214.33 L107.55 214.58 L107.84 214.83 L108.14 215.08 L108.43 215.33 L108.72 215.59 L109.02 215.84 L109.31 216.09 L109.60 216.35 L109.89 216.61 L110.19 216.86 L110.48 217.12 L110.77 217.38 L111.06 217.64 L111.36 217.90 L111.65 218.16 L111.94 218.42 L112.23 218.68 L112.53 218.94 L112.82 219.21 L113.11 219.47 L113.40 219.73 L113.70 220.00 L113.99 220.26 L114.28 220.53 L114.57 220.79 L114.87 221.06 L115.16 221.32 L115.45 221.59 L115.74 221.86 L116.03 222.13 L116.33 222.39 L116.62 222.66 L116.91 222.93 L117.21 223.20 L117.50 223.47 L117.79 223.74 L118.08 224.01 L118.38 224.28 L118.67 224.55 L118.96 224.83 L119.25 225.10 L119.55 225.37 L119.84 225.64 L120.13 225.91 L120.42 226.19 L120.72 226.46 L121.01 226.73 L121.30 227.01 L121.59 227.28 L121.89 227.55 L122.18 227.83 L122.47 228.10 L122.76 228.38 L123.06 228.65 L123.35 228.93 L123.64 229.20 L123.93 229.48 L124.22 229.75 L124.52 230.03 L124.81 230.30 L125.10 230.58 L125.40 230.85 L125.69 231.13 L125.98 231.41 L126.27 231.68 L126.56 231.96 L126.86 232.23 L127.15 232.51 L127.44 232.79 L127.73 233.06 L128.03 233.34 L128.32 233.62 L128.61 233.89 L128.91 234.17 L129.20 234.45 L129.49 234.72 L129.78 235.00 L130.08 235.27 L130.37 235.55 L130.66 235.83 L130.95 236.10 L131.25 236.38 L131.54 236.66 L131.83 236.93 L132.12 237.21 L132.42 237.48 L132.71 237.76 L133.00 238.04 L133.29 238.31 L133.59 238.59 L133.88 238.86 L134.17 239.14 L134.46 239.42 L134.75 239.69 L135.05 239.97 L135.34 240.24 L135.63 240.52 L135.93 240.79 L136.22 241.07 L136.51 241.34 L136.80 241.62 L137.09 241.89 L137.39 242.16 L137.68 242.44 L137.97 242.71 L138.26 242.99 L138.56 243.26 L138.85 243.53 L139.14 243.81 L139.44 244.08 L139.73 244.35 L140.02 244.63 L140.31 244.90 L140.61 245.17 L140.90 245.44 L141.19 245.71 L141.48 245.99 L141.78 246.26 L142.07 246.53 L142.36 246.80 L142.65 247.07 L142.94 247.34 L143.24 247.61 L143.53 247.88 L143.82 248.15 L144.12 248.42 L144.41 248.69 L144.70 248.96 L146.46 250.58 L148.23 252.18 L149.99 253.78 L151.75 255.36 L153.52 256.94 L155.28 258.50 L157.04 260.05 L158.81 261.58 L160.57 263.10 L162.34 264.61 L164.10 266.10 L165.86 267.58 L167.63 269.04 L169.39 270.49 L171.15 271.92 L172.92 273.34 L174.68 274.74 L176.44 276.12 L178.21 277.49 L179.97 278.85 L181.73 280.18 L183.50 281.51 L185.26 282.81 L187.03 284.10 L188.79 285.38 L190.55 286.63 L192.32 287.88 L194.08 289.10 L195.84 290.31 L197.61 291.51 L199.37 292.68 L201.13 293.85 L202.90 294.99 L204.66 296.12 L206.42 297.24 L208.19 298.34 L209.95 299.42 L211.71 300.49 L213.48 301.55 L215.24 302.59 L217.01 303.61 L218.77 304.62 L220.53 305.62 L222.30 306.60 L224.06 307.57 L225.82 308.52 L227.59 309.46 L229.35 310.38 L231.11 311.30 L232.88 312.19 L234.64 313.08 L236.40 313.95 L238.17 314.81 L239.93 315.65 L241.69 316.48 L243.46 317.30 L245.22 318.11 L246.99 318.90 L248.75 319.68 L250.51 320.45 L252.28 321.21 L254.04 321.96 L255.80 322.69 L257.57 323.42 L259.33 324.13 L261.09 324.83 L262.86 325.52 L264.62 326.20 L266.38 326.87 L268.15 327.52 L269.91 328.17 L271.68 328.81 L273.44 329.43 L275.20 330.05 L276.97 330.66 L278.73 331.26 L280.49 331.84 L282.26 332.42 L284.02 332.99 L285.78 333.55 L287.55 334.10 L289.31 334.64 L291.07 335.17 L292.84 335.70 L294.60 336.21 L296.36 336.72 L298.13 337.22 L299.89 337.71 L301.66 338.19 L303.42 338.67 L305.18 339.14 L306.95 339.60 L308.71 340.05 L310.47 340.49 L312.24 340.93 L314.00 341.36 L315.76 341.78 L317.53 342.20 L319.29 342.61 L321.05 343.01 L322.82 343.41 L324.58 343.79 L326.35 344.18 L328.11 344.55 L329.87 344.92 L331.64 345.29 L333.40 345.65 L335.16 346.00 L336.93 346.34 L338.69 346.68 L340.45 347.02 L342.22 347.35 L343.98 347.67 L345.74 347.99 L347.51 348.30 L349.27 348.61 L351.03 348.91 L352.80 349.21 L354.56 349.50 L356.33 349.79 L358.09 350.07 L359.85 350.35 L361.62 350.62 L363.38 350.89 L365.14 351.15 L366.91 351.41 L368.67 351.67 L370.43 351.92 L372.20 352.17 L373.96 352.41 L375.72 352.65 L377.49 352.88 L379.25 353.11 L381.02 353.34 L382.78 353.56 L384.54 353.78 L386.31 354.00 L388.07 354.21 L389.83 354.42 L391.60 354.62 L393.36 354.82 L395.12 355.02 L396.89 355.21 L398.65 355.41 L400.41 355.59 L402.18 355.78 L403.94 355.96 L405.70 356.14 L407.47 356.31 L409.23 356.49 L411.00 356.65 L412.76 356.82 L414.52 356.99 L416.29 357.15 L418.05 357.30 L419.81 357.46 L421.58 357.61 L423.34 357.76 L425.10 357.91 L426.87 358.06 L428.63 358.20 L430.39 358.34 L432.16 358.48 L433.92 358.61 L435.68 358.75 L437.45 358.88 L439.21 359.01 L440.98 359.13 L442.74 359.26 L444.50 359.38 L446.27 359.50 L448.03 359.62 L449.79 359.73 L451.56 359.85 L453.32 359.96 L455.08 360.07 L456.85 360.18 L458.61 360.29 L460.37 360.39 L462.14 360.49 L463.90 360.59 L465.67 360.69 L467.43 360.79 L469.19 360.89 L470.96 360.98 L472.72 361.07 L474.48 361.17 L476.25 361.26 L478.01 361.34 L479.77 361.43 L481.54 361.52 L483.30 361.60 L485.06 361.68 L486.83 361.76 L488.59 361.84 L490.35 361.92 L492.12 362.00 L493.88 362.07 L495.65 362.15 L497.41 362.22 L499.17 362.29 L500.94 362.36 L502.70 362.43 L504.46 362.50 L506.23 362.57 L507.99 362.63 L509.75 362.70 L511.52 362.76 L513.28 362.82 L515.04 362.88 L516.81 362.94 L518.57 363.00 L520.34 363.06 L522.10 363.12 L523.86 363.18 L525.63 363.23 L527.39 363.28 L529.15 363.34 L530.92 363.39 L532.68 363.44 L534.44 363.49 L536.21 363.54 L537.97 363.59 L539.73 363.64 L541.50 363.69 L543.26 363.73 L545.02 363.78 L546.79 363.82 L548.55 363.87 L550.32 363.91 L552.08 363.96 L553.84 364.00 L555.61 364.04 L557.37 364.08 L559.13 364.12 L560.90 364.16 L562.66 364.21 L564.42 364.25 L566.19 364.30 L567.95 364.34 L569.71 364.39 L571.48 364.43 L573.24 364.47 L575.01 364.52 L576.77 364.56 L578.53 364.60 L580.30 364.64 L582.06 364.68 L583.82 364.72 L585.59 364.76 L587.35 364.79 L589.11 364.83 L590.88 364.87 L592.64 364.90 L594.40 364.94 L596.17 364.98 L597.93 365.01 L599.69 365.05 L601.46 365.08 L603.22 365.11 L604.99 365.15 L606.75 365.18 L608.51 365.21 L610.28 365.25 L612.04 365.28 L613.80 365.31 L615.57 365.34 L617.33 365.37 L619.09 365.40 L620.86 365.43 L622.62 365.46 L624.38 365.49 L626.15 365.52 L627.91 365.54 L629.67 365.57 L631.44 365.60 L633.20 365.63 L634.97 365.65 L636.73 365.68 L638.49 365.71 L640.26 365.73 L642.02 365.76 L643.78 365.78 L645.55 365.81 L647.31 365.83 L649.07 365.86 L650.84 365.88 L652.60 365.91 L654.36 365.93 L656.13 365.95 L657.89 365.98 L659.66 366.00 L661.42 366.01 L663.18 366.03 L664.95 366.04 L666.71 366.06 L668.47 366.07 L670.24 366.08 L672.00 366.10" stroke="#ff00ff" stroke-dasharray="7.9 4.5"/>
<path d="M74.50 196.90 L74.79 197.02 L75.08 197.14 L75.38 197.27 L75.67 197.40 L75.96 197.53 L76.25 197.67 L76.55 197.81 L76.84 197.95 L77.13 198.09 L77.42 198.24 L77.72 198.39 L78.01 198.55 L78.30 198.70 L78.59 198.86 L78.89 199.02 L79.18 199.19 L79.47 199.35 L79.77 199.52 L80.06 199.69 L80.35 199.87 L80.64 200.05 L80.94 200.22 L81.23 200.41 L81.52 200.59 L81.81 200.78 L82.11 200.97 L82.40 201.16 L82.69 201.35 L82.98 201.55 L83.28 201.74 L83.57 201.94 L83.86 202.15 L84.15 202.35 L84.44 202.56 L84.74 202.76 L85.03 202.98 L85.32 203.19 L85.61 203.40 L85.91 203.62 L86.20 203.84 L86.49 204.06 L86.78 204.28 L87.08 204.50 L87.37 204.73 L87.66 204.95 L87.95 205.18 L88.25 205.41 L88.54 205.65 L88.83 205.88 L89.12 206.12 L89.42 206.35 L89.71 206.59 L90.00 206.83 L90.30 207.07 L90.59 207.32 L90.88 207.56 L91.17 207.81 L91.47 208.05 L91.76 208.30 L92.05 208.55 L92.34 208.81 L92.64 209.06 L92.93 209.31 L93.22 209.57 L93.51 209.83 L93.81 210.08 L94.10 210.34 L94.39 210.60 L94.68 210.87 L94.97 211.13 L95.27 211.39 L95.56 211.66 L95.85 211.92 L96.14 212.19 L96.44 212.46 L96.73 212.73 L97.02 213.00 L97.31 213.27 L97.61 213.54 L97.90 213.82 L98.19 214.09 L98.48 214.37 L98.78 214.64 L99.07 214.92 L99.36 215.20 L99.66 215.47 L99.95 215.75 L100.24 216.03 L100.53 216.32 L100.83 216.60 L101.12 216.88 L101.41 217.16 L101.70 217.45 L102.00 217.73 L102.29 218.02 L102.58 218.30 L102.87 218.59 L103.16 218.88 L103.46 219.16 L103.75 219.45 L104.04 219.74 L104.34 220.03 L104.63 220.32 L104.92 220.61 L105.21 220.90 L105.50 221.20 L105.80 221.49 L106.09 221.78 L106.38 222.08 L106.68 222.37 L106.97 222.66 L107.26 222.96 L107.55 223.25 L107.84 223.55 L108.14 223.85 L108.43 224.14 L108.72 224.44 L109.02 224.74 L109.31 225.03 L109.60 225.33 L109.89 225.63 L110.19 225.93 L110.48 226.23 L110.77 226.52 L111.06 226.82 L111.36 227.12 L111.65 227.42 L111.94 227.72 L112.23 228.02 L112.53 228.32 L112.82 228.62 L113.11 228.93 L113.40 229.23 L113.70 229.53 L113.99 229.83 L114.28 230.13 L114.57 230.43 L114.87 230.73 L115.16 231.04 L115.45 231.34 L115.74 231.64 L116.03 231.94 L116.33 232.24 L116.62 232.55 L116.91 232.85 L117.21 233.15 L117.50 233.45 L117.79 233.76 L118.08 234.06 L118.38 234.36 L118.67 234.66 L118.96 234.97 L119.25 235.27 L119.55 235.57 L119.84 235.87 L120.13 236.18 L120.42 236.48 L120.72 236.78 L121.01 237.08 L121.30 237.38 L121.59 237.69 L121.89 237.99 L122.18 238.29 L122.47 238.59 L122.76 238.89 L123.06 239.20 L123.35 239.50 L123.64 239.80 L123.93 240.10 L124.22 240.40 L124.52 240.70 L124.81 241.00 L125.10 241.30 L125.40 241.60 L125.69 241.91 L125.98 242.21 L126.27 242.51 L126.56 242.81 L126.86 243.10 L127.15 243.40 L127.44 243.70 L127.73 244.00 L128.03 244.30 L128.32 244.60 L128.61 244.90 L128.91 245.20 L129.20 245.49 L129.49 245.79 L129.78 246.09 L130.08 246.39 L130.37 246.68 L130.66 246.98 L130.95 247.27 L131.25 247.57 L131.54 247.87 L131.83 248.16 L132.12 248.46 L132.42 248.75 L132.71 249.05 L133.00 249.34 L133.29 249.63 L133.59 249.93 L133.88 250.22 L134.17 250.51 L134.46 250.81 L134.75 251.10 L135.05 251.39 L135.34 251.68 L135.63 251.97 L135.93 252.26 L136.22 252.55 L136.51 252.84 L136.80 253.13 L137.09 253.42 L137.39 253.71 L137.68 254.00 L137.97 254.29 L138.26 254.58 L138.56 254.86 L138.85 255.15 L139.14 255.44 L139.44 255.72 L139.73 256.01 L140.02 256.29 L140.31 256.58 L140.61 256.86 L140.90 257.15 L141.19 257.43 L141.48 257.72 L141.78 258.00 L142.07 258.28 L142.36 258.56 L142.65 258.84 L142.94 259.13 L143.24 259.41 L143.53 259.69 L143.82 259.97 L144.12 260.25 L144.41 260.52 L144.70 260.80 L146.46 262.47 L148.23 264.12 L149.99 265.76 L151.75 267.38 L153.52 268.98 L155.28 270.56 L157.04 272.12 L158.81 273.66 L160.57 275.18 L162.34 276.69 L164.10 278.17 L165.86 279.64 L167.63 281.08 L169.39 282.51 L171.15 283.91 L172.92 285.30 L174.68 286.66 L176.44 288.01 L178.21 289.34 L179.97 290.64 L181.73 291.93 L183.50 293.20 L185.26 294.44 L187.03 295.67 L188.79 296.88 L190.55 298.08 L192.32 299.25 L194.08 300.40 L195.84 301.54 L197.61 302.65 L199.37 303.75 L201.13 304.83 L202.90 305.90 L204.66 306.94 L206.42 307.97 L208.19 308.98 L209.95 309.98 L211.71 310.96 L213.48 311.92 L215.24 312.86 L217.01 313.79 L218.77 314.71 L220.53 315.60 L222.30 316.49 L224.06 317.35 L225.82 318.21 L227.59 319.05 L229.35 319.87 L231.11 320.68 L232.88 321.47 L234.64 322.26 L236.40 323.02 L238.17 323.78 L239.93 324.52 L241.69 325.25 L243.46 325.96 L245.22 326.67 L246.99 327.36 L248.75 328.04 L250.51 328.70 L252.28 329.36 L254.04 330.00 L255.80 330.63 L257.57 331.26 L259.33 331.87 L261.09 332.47 L262.86 333.05 L264.62 333.63 L266.38 334.20 L268.15 334.76 L269.91 335.31 L271.68 335.85 L273.44 336.37 L275.20 336.89 L276.97 337.40 L278.73 337.91 L280.49 338.40 L282.26 338.88 L284.02 339.36 L285.78 339.82 L287.55 340.28 L289.31 340.73 L291.07 341.18 L292.84 341.61 L294.60 342.04 L296.36 342.46 L298.13 342.87 L299.89 343.27 L301.66 343.67 L303.42 344.06 L305.18 344.44 L306.95 344.82 L308.71 345.19 L310.47 345.56 L312.24 345.91 L314.00 346.26 L315.76 346.61 L317.53 346.95 L319.29 347.28 L321.05 347.61 L322.82 347.93 L324.58 348.24 L326.35 348.55 L328.11 348.86 L329.87 349.16 L331.64 349.45 L333.40 349.74 L335.16 350.03 L336.93 350.30 L338.69 350.58 L340.45 350.85 L342.22 351.11 L343.98 351.37 L345.74 351.63 L347.51 351.88 L349.27 352.12 L351.03 352.37 L352.80 352.61 L354.56 352.84 L356.33 353.07 L358.09 353.29 L359.85 353.52 L361.62 353.73 L363.38 353.95 L365.14 354.16 L366.91 354.37 L368.67 354.57 L370.43 354.77 L372.20 354.97 L373.96 355.16 L375.72 355.35 L377.49 355.54 L379.25 355.72 L381.02 355.90 L382.78 356.08 L384.54 356.25 L386.31 356.42 L388.07 356.59 L389.83 356.75 L391.60 356.92 L393.36 357.08 L395.12 357.23 L396.89 357.39 L398.65 357.54 L400.41 357.69 L402.18 357.83 L403.94 357.98 L405.70 358.12 L407.47 358.26 L409.23 358.39 L411.00 358.53 L412.76 358.66 L414.52 358.79 L416.29 358.92 L418.05 359.04 L419.81 359.17 L421.58 359.29 L423.34 359.41 L425.10 359.52 L426.87 359.64 L428.63 359.75 L430.39 359.86 L432.16 359.97 L433.92 360.08 L435.68 360.18 L437.45 360.29 L439.21 360.39 L440.98 360.49 L442.74 360.59 L444.50 360.69 L446.27 360.78 L448.03 360.88 L449.79 360.97 L451.56 361.06 L453.32 361.15 L455.08 361.23 L456.85 361.32 L458.61 361.41 L460.37 361.49 L462.14 361.57 L463.90 361.65 L465.67 361.73 L467.43 361.81 L469.19 361.88 L470.96 361.96 L472.72 362.03 L474.48 362.11 L476.25 362.18 L478.01 362.25 L479.77 362.32 L481.54 362.38 L483.30 362.45 L485.06 362.52 L486.83 362.58 L488.59 362.64 L490.35 362.71 L492.12 362.77 L493.88 362.83 L495.65 362.89 L497.41 362.95 L499.17 363.00 L500.94 363.06 L502.70 363.12 L504.46 363.17 L506.23 363.22 L507.99 363.28 L509.75 363.33 L511.52 363.38 L513.28 363.43 L515.04 363.48 L516.81 363.53 L518.57 363.57 L520.34 363.62 L522.10 363.67 L523.86 363.71 L525.63 363.76 L527.39 363.80 L529.15 363.84 L530.92 363.89 L532.68 363.93 L534.44 363.97 L536.21 364.01 L537.97 364.05 L539.73 364.09 L541.50 364.13 L543.26 364.16 L545.02 364.20 L546.79 364.24 L548.55 364.27 L550.32 364.31 L552.08 364.34 L553.84 364.38 L555.61 364.41 L557.37 364.44 L559.13 364.48 L560.90 364.51 L562.66 364.55 L564.42 364.59 L566.19 364.63 L567.95 364.67 L569.71 364.70 L571.48 364.74 L573.24 364.78 L575.01 364.81 L576.77 364.85 L578.53 364.88 L580.30 364.92 L582.06 364.95 L583.82 364.98 L585.59 365.02 L587.35 365.05 L589.11 365.08 L590.88 365.11 L592.64 365.14 L594.40 365.18 L596.17 365.21 L597.93 365.24 L599.69 365.27 L601.46 365.30 L603.22 365.33 L604.99 365.35 L606.75 365.38 L608.51 365.41 L610.28 365.44 L612.04 365.47 L613.80 365.49 L615.57 365.52 L617.33 365.55 L619.09 365.57 L620.86 365.60 L622.62 365.63 L624.38 365.65 L626.15 365.68 L627.91 365.70 L629.67 365.73 L631.44 365.75 L633.20 365.77 L634.97 365.80 L636.73 365.82 L638.49 365.84 L640.26 365.87 L642.02 365.89 L643.78 365.91 L645.55 365.93 L647.31 365.96 L649.07 365.98 L650.84 366.00 L652.60 366.02 L654.36 366.04 L656.13 366.06 L657.89 366.08 L659.66 366.10 L661.42 366.12 L663.18 366.13 L664.95 366.14 L666.71 366.15 L668.47 366.16 L670.24 366.18 L672.00 366.19" stroke="#0000ff" stroke-dasharray="7.9 4.5"/>
<path d="M74.50 196.90 L74.30 202.30 L74.59 202.26 L74.88 202.25 L75.18 202.25 L75.47 202.26 L75.76 202.29 L76.05 202.34 L76.35 202.40 L76.64 202.48 L76.93 202.57 L77.22 202.67 L77.52 202.79 L77.81 202.91 L78.10 203.05 L78.39 203.20 L78.69 203.36 L78.98 203.54 L79.27 203.72 L79.56 203.91 L79.86 204.11 L80.15 204.31 L80.44 204.53 L80.73 204.76 L81.03 204.99 L81.32 205.23 L81.61 205.47 L81.91 205.73 L82.20 205.99 L82.49 206.25 L82.78 206.52 L83.08 206.80 L83.37 207.09 L83.66 207.37 L83.95 207.67 L84.25 207.96 L84.54 208.27 L84.83 208.57 L85.12 208.88 L85.41 209.20 L85.71 209.52 L86.00 209.84 L86.29 210.16 L86.58 210.49 L86.88 210.82 L87.17 211.16 L87.46 211.50 L87.75 211.84 L88.05 212.18 L88.34 212.52 L88.63 212.87 L88.92 213.22 L89.22 213.57 L89.51 213.92 L89.80 214.28 L90.09 214.63 L90.39 214.99 L90.68 215.35 L90.97 215.71 L91.27 216.08 L91.56 216.44 L91.85 216.80 L92.14 217.17 L92.44 217.54 L92.73 217.90 L93.02 218.27 L93.31 218.64 L93.60 219.01 L93.90 219.38 L94.19 219.75 L94.48 220.12 L94.78 220.50 L95.07 220.87 L95.36 221.24 L95.65 221.61 L95.94 221.99 L96.24 222.36 L96.53 222.73 L96.82 223.11 L97.11 223.48 L97.41 223.85 L97.70 224.23 L97.99 224.60 L98.28 224.98 L98.58 225.35 L98.87 225.72 L99.16 226.09 L99.45 226.47 L99.75 226.84 L100.04 227.21 L100.33 227.58 L100.62 227.96 L100.92 228.33 L101.21 228.70 L101.50 229.07 L101.80 229.44 L102.09 229.81 L102.38 230.18 L102.67 230.55 L102.97 230.92 L103.26 231.28 L103.55 231.65 L103.84 232.02 L104.13 232.38 L104.43 232.75 L104.72 233.11 L105.01 233.48 L105.30 233.84 L105.60 234.21 L105.89 234.57 L106.18 234.93 L106.47 235.29 L106.77 235.65 L107.06 236.01 L107.35 236.37 L107.64 236.73 L107.94 237.09 L108.23 237.44 L108.52 237.80 L108.81 238.15 L109.11 238.51 L109.40 238.86 L109.69 239.22 L109.98 239.57 L110.28 239.92 L110.57 240.27 L110.86 240.62 L111.16 240.97 L111.45 241.32 L111.74 241.67 L112.03 242.01 L112.32 242.36 L112.62 242.71 L112.91 243.05 L113.20 243.39 L113.50 243.74 L113.79 244.08 L114.08 244.42 L114.37 244.76 L114.66 245.10 L114.96 245.44 L115.25 245.78 L115.54 246.11 L115.84 246.45 L116.13 246.78 L116.42 247.12 L116.71 247.45 L117.00 247.79 L117.30 248.12 L117.59 248.45 L117.88 248.78 L118.17 249.11 L118.47 249.44 L118.76 249.76 L119.05 250.09 L119.34 250.42 L119.64 250.74 L119.93 251.07 L120.22 251.39 L120.52 251.71 L120.81 252.03 L121.10 252.36 L121.39 252.68 L121.69 253.00 L121.98 253.31 L122.27 253.63 L122.56 253.95 L122.85 254.26 L123.15 254.58 L123.44 254.89 L123.73 255.21 L124.03 255.52 L124.32 255.83 L124.61 256.14 L124.90 256.45 L125.19 256.76 L125.49 257.07 L125.78 257.38 L126.07 257.68 L126.37 257.99 L126.66 258.29 L126.95 258.60 L127.24 258.90 L127.53 259.20 L127.83 259.51 L128.12 259.81 L128.41 260.11 L128.70 260.41 L129.00 260.70 L129.29 261.00 L129.58 261.30 L129.88 261.60 L130.17 261.89 L130.46 262.18 L130.75 262.48 L131.05 262.77 L131.34 263.06 L131.63 263.35 L131.92 263.64 L132.22 263.93 L132.51 264.22 L132.80 264.51 L133.09 264.80 L133.38 265.08 L133.68 265.37 L133.97 265.65 L134.26 265.94 L134.56 266.22 L134.85 266.50 L135.14 266.79 L135.43 267.07 L135.72 267.35 L136.02 267.63 L136.31 267.90 L136.60 268.18 L136.90 268.46 L137.19 268.74 L137.48 269.01 L137.77 269.29 L138.06 269.56 L138.36 269.83 L138.65 270.10 L138.94 270.38 L139.24 270.65 L139.53 270.92 L139.82 271.19 L140.11 271.46 L140.41 271.72 L140.70 271.99 L140.99 272.26 L141.28 272.52 L141.57 272.79 L141.87 273.05 L142.16 273.32 L142.45 273.58 L142.75 273.84 L143.04 274.10 L143.33 274.36 L143.62 274.62 L143.91 274.88 L144.21 275.14 L144.50 275.40 L146.26 276.93 L148.03 278.45 L149.79 279.94 L151.56 281.40 L153.32 282.84 L155.09 284.25 L156.85 285.64 L158.61 287.01 L160.38 288.35 L162.14 289.67 L163.91 290.97 L165.67 292.25 L167.43 293.50 L169.20 294.74 L170.96 295.95 L172.73 297.15 L174.49 298.32 L176.26 299.48 L178.02 300.61 L179.78 301.73 L181.55 302.82 L183.31 303.90 L185.08 304.96 L186.84 306.00 L188.61 307.03 L190.37 308.04 L192.13 309.03 L193.90 310.00 L195.66 310.96 L197.43 311.90 L199.19 312.83 L200.95 313.74 L202.72 314.63 L204.48 315.51 L206.25 316.38 L208.01 317.23 L209.78 318.07 L211.54 318.89 L213.30 319.70 L215.07 320.49 L216.83 321.27 L218.60 322.04 L220.36 322.80 L222.13 323.54 L223.89 324.27 L225.65 324.99 L227.42 325.70 L229.18 326.39 L230.95 327.07 L232.71 327.75 L234.47 328.41 L236.24 329.05 L238.00 329.69 L239.77 330.32 L241.53 330.94 L243.30 331.54 L245.06 332.14 L246.82 332.73 L248.59 333.30 L250.35 333.87 L252.12 334.43 L253.88 334.97 L255.65 335.51 L257.41 336.04 L259.17 336.56 L260.94 337.07 L262.70 337.58 L264.47 338.07 L266.23 338.56 L267.99 339.04 L269.76 339.51 L271.52 339.97 L273.29 340.43 L275.05 340.87 L276.82 341.31 L278.58 341.74 L280.34 342.17 L282.11 342.59 L283.87 343.00 L285.64 343.40 L287.40 343.80 L289.17 344.19 L290.93 344.57 L292.69 344.95 L294.46 345.32 L296.22 345.69 L297.99 346.05 L299.75 346.40 L301.52 346.74 L303.28 347.09 L305.04 347.42 L306.81 347.75 L308.57 348.07 L310.34 348.39 L312.10 348.71 L313.86 349.01 L315.63 349.32 L317.39 349.62 L319.16 349.91 L320.92 350.20 L322.69 350.48 L324.45 350.76 L326.21 351.03 L327.98 351.30 L329.74 351.56 L331.51 351.82 L333.27 352.08 L335.04 352.33 L336.80 352.58 L338.56 352.82 L340.33 353.06 L342.09 353.30 L343.86 353.53 L345.62 353.75 L347.38 353.98 L349.15 354.20 L350.91 354.41 L352.68 354.62 L354.44 354.83 L356.21 355.04 L357.97 355.24 L359.73 355.44 L361.50 355.63 L363.26 355.83 L365.03 356.01 L366.79 356.20 L368.56 356.38 L370.32 356.56 L372.08 356.74 L373.85 356.91 L375.61 357.08 L377.38 357.25 L379.14 357.41 L380.90 357.57 L382.67 357.73 L384.43 357.89 L386.20 358.04 L387.96 358.20 L389.73 358.34 L391.49 358.49 L393.25 358.63 L395.02 358.78 L396.78 358.91 L398.55 359.05 L400.31 359.19 L402.08 359.32 L403.84 359.45 L405.60 359.57 L407.37 359.70 L409.13 359.82 L410.90 359.95 L412.66 360.06 L414.42 360.18 L416.19 360.30 L417.95 360.41 L419.72 360.52 L421.48 360.63 L423.25 360.74 L425.01 360.85 L426.77 360.95 L428.54 361.05 L430.30 361.15 L432.07 361.25 L433.83 361.35 L435.60 361.45 L437.36 361.54 L439.12 361.63 L440.89 361.72 L442.65 361.81 L444.42 361.90 L446.18 361.99 L447.94 362.07 L449.71 362.16 L451.47 362.24 L453.24 362.32 L455.00 362.40 L456.77 362.48 L458.53 362.55 L460.29 362.63 L462.06 362.70 L463.82 362.78 L465.59 362.85 L467.35 362.92 L469.12 362.99 L470.88 363.06 L472.64 363.12 L474.41 363.19 L476.17 363.25 L477.94 363.32 L479.70 363.38 L481.46 363.44 L483.23 363.50 L484.99 363.56 L486.76 363.62 L488.52 363.68 L490.29 363.74 L492.05 363.79 L493.81 363.85 L495.58 363.90 L497.34 363.95 L499.11 364.00 L500.87 364.06 L502.64 364.11 L504.40 364.16 L506.16 364.20 L507.93 364.25 L509.69 364.30 L511.46 364.35 L513.22 364.39 L514.98 364.44 L516.75 364.48 L518.51 364.52 L520.28 364.57 L522.04 364.61 L523.81 364.65 L525.57 364.69 L527.33 364.73 L529.10 364.77 L530.86 364.81 L532.63 364.84 L534.39 364.88 L536.16 364.92 L537.92 364.95 L539.68 364.99 L541.45 365.02 L543.21 365.06 L544.98 365.09 L546.74 365.12 L548.51 365.16 L550.27 365.19 L552.03 365.22 L553.80 365.25 L555.56 365.28 L557.33 365.31 L559.09 365.34 L560.85 365.37 L562.62 365.41 L564.38 365.44 L566.15 365.48 L567.91 365.51 L569.68 365.55 L571.44 365.58 L573.20 365.62 L574.97 365.65 L576.73 365.68 L578.50 365.71 L580.26 365.74 L582.03 365.78 L583.79 365.81 L585.55 365.84 L587.32 365.87 L589.08 365.90 L590.85 365.93 L592.61 365.96 L594.37 365.99 L596.14 366.01 L597.90 366.04 L599.67 366.07 L601.43 366.10 L603.20 366.12 L604.96 366.15 L606.72 366.18 L608.49 366.20 L610.25 366.23 L612.02 366.26 L613.78 366.28 L615.55 366.31 L617.31 366.33 L619.07 366.35 L620.84 366.38 L622.60 366.40 L624.37 366.43 L626.13 366.45 L627.89 366.47 L629.66 366.50 L631.42 366.52 L633.19 366.54 L634.95 366.56 L636.72 366.58 L638.48 366.61 L640.24 366.63 L642.01 366.65 L643.77 366.67 L645.54 366.69 L647.30 366.71 L649.07 366.73 L650.83 366.75 L652.59 366.77 L654.36 366.79 L656.12 366.81 L657.89 366.83 L659.65 366.85 L661.41 366.86 L663.18 366.87 L664.94 366.88 L666.71 366.89 L668.47 366.90 L670.24 366.91 L672.00 366.92" stroke="#000000" stroke-dasharray="7.9 4.5"/>
</g>
<g font-family="Liberation Sans, sans-serif" font-size="22.4" fill="#000">
<text transform="translate(74.6,407.9) scale(1,1.035)" text-anchor="middle">0.0</text>
<text transform="translate(250.1,407.9) scale(1,1.035)" text-anchor="middle">0.5</text>
<text transform="translate(425.6,407.9) scale(1,1.035)" text-anchor="middle">1.0</text>
<text transform="translate(601.1,407.9) scale(1,1.035)" text-anchor="middle">1.5</text>
<text transform="translate(59.2,373.5) scale(1,1.035)" text-anchor="end">0.0</text>
<text transform="translate(59.2,287.0) scale(1,1.035)" text-anchor="end">0.5</text>
<text transform="translate(59.2,200.5) scale(1,1.035)" text-anchor="end">1.0</text>
<text transform="translate(59.2,114.1) scale(1,1.035)" text-anchor="end">1.5</text>
<text transform="translate(59.2,27.6) scale(1,1.035)" text-anchor="end">2.0</text>
</g>
<text transform="translate(17.0,219.6) rotate(-90)" font-family="Liberation Sans, sans-serif" font-size="22" fill="#000">u(<tspan dx="-1.2" font-family="DejaVu Math TeX Gyre, DejaVu Serif, serif" font-style="italic" font-size="17.6" stroke="#000" stroke-width="0.35">ζ</tspan><tspan dx="-1.0">,</tspan><tspan dx="-0.3" font-family="DejaVu Math TeX Gyre, DejaVu Serif, serif" font-style="italic" stroke="#000" stroke-width="0.3">τ</tspan>)</text>
<text x="365.1" y="437.65" font-family="DejaVu Math TeX Gyre, DejaVu Serif, serif" font-style="italic" font-size="20.7" fill="#000" stroke="#000" stroke-width="0.45">ζ</text>
<g font-family="Liberation Serif, serif" font-size="16.6" fill="#000">
<text x="277.9" y="43.8"><tspan font-weight="bold">Solid Line:</tspan> Isothermal Wall (<tspan font-style="italic">τ=1.5</tspan>)</text>
<text x="277.9" y="88.5"><tspan font-weight="bold">Dashed:</tspan> Ramped Wall (<tspan font-style="italic">τ<tspan dx="1.5">=0.5</tspan></tspan>)</text>
</g>
<rect x="572.5" y="7.5" width="108" height="206.3" fill="#fff" stroke="#4a4a4a" stroke-width="1"/>
<g font-family="Liberation Sans, sans-serif" font-style="italic" font-size="22" >
<text y="29.5" fill="#ff0000" stroke="#ff0000" stroke-width="0.3"><tspan x="594.4" stroke="none" font-family="DejaVu Math TeX Gyre, DejaVu Serif, serif" font-size="22.5">α</tspan><tspan x="615.2">=</tspan><tspan x="628.5" letter-spacing="-0.3">0.2</tspan></text>
<text y="54.7" fill="#ff00ff" stroke="#ff00ff" stroke-width="0.3"><tspan x="594.4" stroke="none" font-family="DejaVu Math TeX Gyre, DejaVu Serif, serif" font-size="22.5">α</tspan><tspan x="615.2">=</tspan><tspan x="628.5" letter-spacing="-0.3">0.5</tspan></text>
<text y="79.9" fill="#0000ff" stroke="#0000ff" stroke-width="0.3"><tspan x="594.4" stroke="none" font-family="DejaVu Math TeX Gyre, DejaVu Serif, serif" font-size="22.5">α</tspan><tspan x="615.2">=</tspan><tspan x="628.5" letter-spacing="-0.3">0.7</tspan></text>
<text y="105.1" fill="#000000" stroke="#000000" stroke-width="0.3"><tspan x="594.4" stroke="none" font-family="DejaVu Math TeX Gyre, DejaVu Serif, serif" font-size="22.5">α</tspan><tspan x="615.2">=</tspan><tspan x="628.5" letter-spacing="-0.3">1</tspan></text>
<text y="130.3" fill="#ff0000" stroke="#ff0000" stroke-width="0.3"><tspan x="594.4" stroke="none" font-family="DejaVu Math TeX Gyre, DejaVu Serif, serif" font-size="22.5">α</tspan><tspan x="615.2">=</tspan><tspan x="628.5" letter-spacing="-0.3">0.2</tspan></text>
<text y="155.5" fill="#ff00ff" stroke="#ff00ff" stroke-width="0.3"><tspan x="594.4" stroke="none" font-family="DejaVu Math TeX Gyre, DejaVu Serif, serif" font-size="22.5">α</tspan><tspan x="615.2">=</tspan><tspan x="628.5" letter-spacing="-0.3">0.5</tspan></text>
<text y="180.7" fill="#0000ff" stroke="#0000ff" stroke-width="0.3"><tspan x="594.4" stroke="none" font-family="DejaVu Math TeX Gyre, DejaVu Serif, serif" font-size="22.5">α</tspan><tspan x="615.2">=</tspan><tspan x="628.5" letter-spacing="-0.3">0.7</tspan></text>
<text y="205.9" fill="#000000" stroke="#000000" stroke-width="0.3"><tspan x="594.4" stroke="none" font-family="DejaVu Math TeX Gyre, DejaVu Serif, serif" font-size="22.5">α</tspan><tspan x="615.2">=</tspan><tspan x="628.5" letter-spacing="-0.3">1</tspan></text>
</g>
</svg>
</body></html>
